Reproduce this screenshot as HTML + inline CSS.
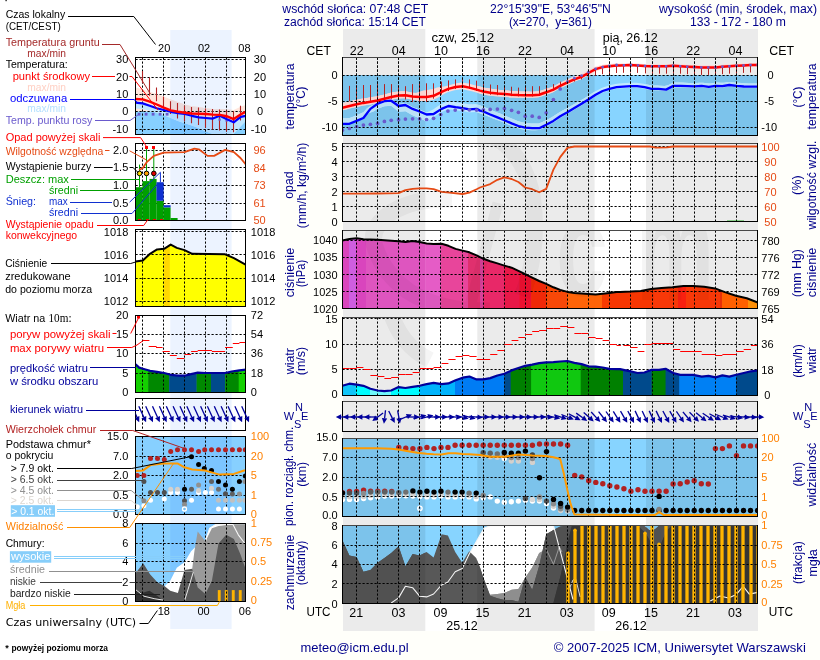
<!DOCTYPE html>
<html lang="pl"><head><meta charset="utf-8"><title>Meteogram ICM</title>
<style>
html,body{margin:0;padding:0;background:#fffffa;}
body{width:820px;height:660px;overflow:hidden;font-family:"Liberation Sans", sans-serif;}
svg{display:block;font-family:"Liberation Sans", sans-serif;}
</style></head><body>
<svg width="820" height="660" viewBox="0 0 820 660" shape-rendering="auto">
<defs>
<clipPath id="night"><rect x="343.0" y="0" width="82.3" height="660"/><rect x="477.3" y="0" width="117.3" height="660"/><rect x="646.0" y="0" width="112.0" height="660"/></clipPath>
<clipPath id="p1"><rect x="342.5" y="57.5" width="415.0" height="78.0"/></clipPath>
<clipPath id="p2"><rect x="342.5" y="143.5" width="415.0" height="78.0"/></clipPath>
<clipPath id="p3"><rect x="342.5" y="230.5" width="415.0" height="78.0"/></clipPath>
<clipPath id="p4"><rect x="342.5" y="317.5" width="415.0" height="78.0"/></clipPath>
<clipPath id="p5"><rect x="342.5" y="401.5" width="415.0" height="30.0"/></clipPath>
<clipPath id="p6"><rect x="342.5" y="438.5" width="415.0" height="78.0"/></clipPath>
<clipPath id="p7"><rect x="342.5" y="525.5" width="415.0" height="78.0"/></clipPath>
<clipPath id="wm"><rect x="342.5" y="143.5" width="415.0" height="78.0"/><rect x="342.5" y="230.5" width="415.0" height="78.0"/><rect x="342.5" y="317.5" width="415.0" height="78.0"/><rect x="342.5" y="401.5" width="415.0" height="30.0"/></clipPath>
</defs>
<rect x="0.0" y="0.0" width="280.0" height="660.0" fill="#ffffff"/>
<rect x="343.0" y="29.0" width="415.0" height="602.0" fill="#ffffff"/>
<rect x="343.0" y="29.0" width="82.3" height="602.0" fill="#ebebeb"/>
<rect x="477.3" y="29.0" width="117.3" height="602.0" fill="#ebebeb"/>
<rect x="646.0" y="29.0" width="112.0" height="602.0" fill="#ebebeb"/>
<g>
<polygon points="342.5,75.1 757.5,75.1 757.5,135.5 342.5,135.5" fill="#87d4ff"/>
<g clip-path="url(#night)">
<polygon points="342.5,75.1 757.5,75.1 757.5,135.5 342.5,135.5" fill="#7cc3eb"/>
</g>
</g>
<g clip-path="url(#p1)">
<polygon points="342.5,118.2 346.0,118.2 349.5,118.1 353.0,116.7 356.5,115.3 360.0,113.8 363.5,112.2 367.0,108.3 370.5,105.9 374.0,104.4 377.5,102.0 381.0,100.7 384.5,99.5 388.0,99.4 391.5,99.4 395.0,101.7 398.5,104.1 402.0,103.5 405.5,103.0 409.0,105.0 412.5,106.9 416.0,108.2 419.5,109.4 423.0,111.0 426.5,112.5 430.0,111.0 433.5,109.2 437.0,106.8 440.5,104.6 444.0,102.9 447.5,101.4 451.0,101.4 454.5,102.0 458.0,102.5 461.5,102.9 465.0,103.5 468.5,104.2 472.0,104.2 475.5,104.0 479.0,105.1 482.5,106.3 486.0,107.7 489.5,109.3 493.0,110.7 496.5,112.2 500.0,113.6 503.5,115.1 507.0,116.6 510.5,118.1 514.0,119.5 517.5,120.9 521.0,121.9 524.5,122.8 528.0,123.2 531.5,123.5 535.0,123.5 538.5,123.6 542.0,122.2 545.5,120.6 549.0,118.7 552.5,116.8 556.0,114.6 559.5,112.2 563.0,110.3 566.5,108.5 570.0,106.5 573.5,104.4 577.0,102.4 580.5,100.4 584.0,98.4 587.5,96.3 591.0,94.1 594.5,91.8 598.0,89.9 601.5,88.1 605.0,86.8 608.5,85.7 612.0,84.8 615.5,84.0 619.0,83.5 622.5,83.3 626.0,83.0 629.5,82.8 633.0,82.8 636.5,82.8 640.0,83.2 643.5,83.7 647.0,84.4 650.5,85.3 654.0,85.5 657.5,85.5 661.0,85.8 664.5,86.1 668.0,85.3 671.5,83.5 675.0,82.5 678.5,82.5 682.0,82.6 685.5,82.8 689.0,82.9 692.5,83.0 696.0,82.9 699.5,82.7 703.0,82.7 706.5,83.3 710.0,83.4 713.5,82.9 717.0,82.6 720.5,82.8 724.0,82.7 727.5,82.0 731.0,81.9 734.5,82.4 738.0,82.7 741.5,83.1 745.0,83.3 748.5,83.4 752.0,83.5 755.5,83.5 757.5,83.5 757.5,87.9 755.5,87.9 752.0,87.9 748.5,87.9 745.0,87.8 741.5,87.6 738.0,87.2 734.5,86.9 731.0,86.5 727.5,86.6 724.0,87.2 720.5,87.4 717.0,87.2 713.5,87.5 710.0,88.0 706.5,87.9 703.0,87.4 699.5,87.3 696.0,87.6 692.5,87.6 689.0,87.6 685.5,87.4 682.0,87.3 678.5,87.2 675.0,87.2 671.5,88.2 668.0,90.0 664.5,90.8 661.0,90.5 657.5,90.3 654.0,90.3 650.5,90.1 647.0,89.2 643.5,88.5 640.0,88.0 636.5,87.6 633.0,87.6 629.5,87.7 626.0,87.9 622.5,88.2 619.0,88.4 615.5,89.0 612.0,89.8 608.5,90.7 605.0,91.7 601.5,93.1 598.0,94.9 594.5,97.0 591.0,99.3 587.5,101.6 584.0,103.8 580.5,105.9 577.0,108.0 573.5,110.1 570.0,112.2 566.5,114.3 563.0,116.2 559.5,118.3 556.0,120.7 552.5,123.0 549.0,125.0 545.5,126.9 542.0,128.7 538.5,130.1 535.0,130.2 531.5,130.2 528.0,130.0 524.5,129.7 521.0,128.9 517.5,127.9 514.0,126.7 510.5,125.4 507.0,123.9 503.5,122.5 500.0,121.1 496.5,119.8 493.0,118.4 489.5,117.0 486.0,115.5 482.5,114.2 479.0,113.1 475.5,112.0 472.0,112.2 468.5,112.2 465.0,111.5 461.5,110.9 458.0,110.5 454.5,110.0 451.0,109.4 447.5,109.4 444.0,110.9 440.5,112.6 437.0,114.8 433.5,117.3 430.0,119.6 426.5,121.5 423.0,119.8 419.5,118.2 416.0,116.8 412.5,115.3 409.0,113.3 405.5,111.2 402.0,111.6 398.5,111.8 395.0,108.8 391.5,105.9 388.0,106.0 384.5,106.2 381.0,107.5 377.5,108.8 374.0,111.3 370.5,112.6 367.0,114.1 363.5,117.8 360.0,119.3 356.5,120.7 353.0,122.0 349.5,123.4 346.0,123.3 342.5,123.3" fill="#c3e9ff"/>
<g clip-path="url(#night)">
<polygon points="342.5,118.2 346.0,118.2 349.5,118.1 353.0,116.7 356.5,115.3 360.0,113.8 363.5,112.2 367.0,108.3 370.5,105.9 374.0,104.4 377.5,102.0 381.0,100.7 384.5,99.5 388.0,99.4 391.5,99.4 395.0,101.7 398.5,104.1 402.0,103.5 405.5,103.0 409.0,105.0 412.5,106.9 416.0,108.2 419.5,109.4 423.0,111.0 426.5,112.5 430.0,111.0 433.5,109.2 437.0,106.8 440.5,104.6 444.0,102.9 447.5,101.4 451.0,101.4 454.5,102.0 458.0,102.5 461.5,102.9 465.0,103.5 468.5,104.2 472.0,104.2 475.5,104.0 479.0,105.1 482.5,106.3 486.0,107.7 489.5,109.3 493.0,110.7 496.5,112.2 500.0,113.6 503.5,115.1 507.0,116.6 510.5,118.1 514.0,119.5 517.5,120.9 521.0,121.9 524.5,122.8 528.0,123.2 531.5,123.5 535.0,123.5 538.5,123.6 542.0,122.2 545.5,120.6 549.0,118.7 552.5,116.8 556.0,114.6 559.5,112.2 563.0,110.3 566.5,108.5 570.0,106.5 573.5,104.4 577.0,102.4 580.5,100.4 584.0,98.4 587.5,96.3 591.0,94.1 594.5,91.8 598.0,89.9 601.5,88.1 605.0,86.8 608.5,85.7 612.0,84.8 615.5,84.0 619.0,83.5 622.5,83.3 626.0,83.0 629.5,82.8 633.0,82.8 636.5,82.8 640.0,83.2 643.5,83.7 647.0,84.4 650.5,85.3 654.0,85.5 657.5,85.5 661.0,85.8 664.5,86.1 668.0,85.3 671.5,83.5 675.0,82.5 678.5,82.5 682.0,82.6 685.5,82.8 689.0,82.9 692.5,83.0 696.0,82.9 699.5,82.7 703.0,82.7 706.5,83.3 710.0,83.4 713.5,82.9 717.0,82.6 720.5,82.8 724.0,82.7 727.5,82.0 731.0,81.9 734.5,82.4 738.0,82.7 741.5,83.1 745.0,83.3 748.5,83.4 752.0,83.5 755.5,83.5 757.5,83.5 757.5,87.9 755.5,87.9 752.0,87.9 748.5,87.9 745.0,87.8 741.5,87.6 738.0,87.2 734.5,86.9 731.0,86.5 727.5,86.6 724.0,87.2 720.5,87.4 717.0,87.2 713.5,87.5 710.0,88.0 706.5,87.9 703.0,87.4 699.5,87.3 696.0,87.6 692.5,87.6 689.0,87.6 685.5,87.4 682.0,87.3 678.5,87.2 675.0,87.2 671.5,88.2 668.0,90.0 664.5,90.8 661.0,90.5 657.5,90.3 654.0,90.3 650.5,90.1 647.0,89.2 643.5,88.5 640.0,88.0 636.5,87.6 633.0,87.6 629.5,87.7 626.0,87.9 622.5,88.2 619.0,88.4 615.5,89.0 612.0,89.8 608.5,90.7 605.0,91.7 601.5,93.1 598.0,94.9 594.5,97.0 591.0,99.3 587.5,101.6 584.0,103.8 580.5,105.9 577.0,108.0 573.5,110.1 570.0,112.2 566.5,114.3 563.0,116.2 559.5,118.3 556.0,120.7 552.5,123.0 549.0,125.0 545.5,126.9 542.0,128.7 538.5,130.1 535.0,130.2 531.5,130.2 528.0,130.0 524.5,129.7 521.0,128.9 517.5,127.9 514.0,126.7 510.5,125.4 507.0,123.9 503.5,122.5 500.0,121.1 496.5,119.8 493.0,118.4 489.5,117.0 486.0,115.5 482.5,114.2 479.0,113.1 475.5,112.0 472.0,112.2 468.5,112.2 465.0,111.5 461.5,110.9 458.0,110.5 454.5,110.0 451.0,109.4 447.5,109.4 444.0,110.9 440.5,112.6 437.0,114.8 433.5,117.3 430.0,119.6 426.5,121.5 423.0,119.8 419.5,118.2 416.0,116.8 412.5,115.3 409.0,113.3 405.5,111.2 402.0,111.6 398.5,111.8 395.0,108.8 391.5,105.9 388.0,106.0 384.5,106.2 381.0,107.5 377.5,108.8 374.0,111.3 370.5,112.6 367.0,114.1 363.5,117.8 360.0,119.3 356.5,120.7 353.0,122.0 349.5,123.4 346.0,123.3 342.5,123.3" fill="#bce1f6"/>
</g>
</g>
<g clip-path="url(#p1)">
<polygon points="342.5,103.1 346.0,102.3 349.5,101.4 353.0,100.6 356.5,99.8 360.0,99.1 363.5,98.5 367.0,97.9 370.5,97.3 374.0,96.8 377.5,96.2 381.0,95.3 384.5,94.4 388.0,93.5 391.5,92.6 395.0,92.0 398.5,91.4 402.0,91.3 405.5,91.3 409.0,92.1 412.5,92.8 416.0,92.9 419.5,91.9 423.0,90.8 426.5,90.3 430.0,89.6 433.5,88.9 437.0,87.4 440.5,86.9 444.0,86.6 447.5,85.8 451.0,84.7 454.5,83.7 458.0,83.1 461.5,82.6 465.0,82.9 468.5,83.5 472.0,84.4 475.5,85.4 479.0,86.3 482.5,87.3 486.0,88.0 489.5,88.6 493.0,89.1 496.5,89.6 500.0,89.9 503.5,90.2 507.0,90.5 510.5,90.9 514.0,91.1 517.5,91.3 521.0,91.5 524.5,91.6 528.0,91.6 531.5,91.7 535.0,91.5 538.5,91.3 542.0,90.3 545.5,89.2 549.0,87.9 552.5,86.7 556.0,85.0 559.5,83.1 563.0,81.4 566.5,79.8 570.0,78.3 573.5,76.8 577.0,75.6 580.5,74.4 584.0,72.7 587.5,70.8 591.0,69.0 594.5,67.1 598.0,65.9 601.5,64.9 605.0,64.4 608.5,64.1 612.0,63.8 615.5,63.5 619.0,63.5 622.5,63.5 626.0,63.4 629.5,63.3 633.0,63.4 636.5,63.5 640.0,63.8 643.5,64.0 647.0,64.2 650.5,64.4 654.0,64.4 657.5,64.4 661.0,64.4 664.5,64.4 668.0,64.3 671.5,64.0 675.0,64.0 678.5,64.3 682.0,64.5 685.5,64.8 689.0,65.0 692.5,65.2 696.0,65.3 699.5,65.5 703.0,65.6 706.5,65.6 710.0,65.6 713.5,65.6 717.0,65.5 720.5,65.1 724.0,64.8 727.5,64.6 731.0,64.3 734.5,64.1 738.0,63.8 741.5,63.7 745.0,63.5 748.5,63.3 752.0,63.2 755.5,63.1 757.5,63.1 757.5,66.4 755.5,66.4 752.0,66.5 748.5,66.6 745.0,66.8 741.5,67.0 738.0,67.1 734.5,67.4 731.0,67.6 727.5,67.9 724.0,68.1 720.5,68.4 717.0,68.8 713.5,68.9 710.0,68.9 706.5,68.9 703.0,68.9 699.5,68.8 696.0,68.6 692.5,68.5 689.0,68.3 685.5,68.1 682.0,67.8 678.5,67.6 675.0,67.3 671.5,67.3 668.0,67.6 664.5,67.7 661.0,67.7 657.5,67.7 654.0,67.7 650.5,67.7 647.0,67.5 643.5,67.3 640.0,67.1 636.5,66.8 633.0,66.7 629.5,66.6 626.0,66.7 622.5,66.8 619.0,66.9 615.5,67.1 612.0,67.6 608.5,68.1 605.0,68.6 601.5,69.4 598.0,70.4 594.5,71.8 591.0,73.7 587.5,75.7 584.0,77.6 580.5,79.4 577.0,80.6 573.5,82.0 570.0,83.6 566.5,85.2 563.0,86.9 559.5,88.6 556.0,90.6 552.5,92.4 549.0,93.7 545.5,95.1 542.0,96.3 538.5,97.3 535.0,97.6 531.5,97.8 528.0,97.8 524.5,97.9 521.0,97.8 517.5,97.7 514.0,97.6 510.5,97.4 507.0,97.1 503.5,96.8 500.0,96.6 496.5,96.3 493.0,95.9 489.5,95.5 486.0,94.9 482.5,94.2 479.0,93.3 475.5,92.3 472.0,91.3 468.5,90.4 465.0,89.7 461.5,89.3 458.0,89.8 454.5,90.3 451.0,91.3 447.5,92.3 444.0,94.0 440.5,95.9 437.0,98.0 433.5,99.8 430.0,100.4 426.5,101.0 423.0,100.9 419.5,100.7 416.0,100.2 412.5,99.8 409.0,99.1 405.5,98.3 402.0,98.3 398.5,98.4 395.0,99.0 391.5,99.7 388.0,100.6 384.5,101.5 381.0,102.4 377.5,103.3 374.0,103.8 370.5,104.4 367.0,105.0 363.5,105.6 360.0,106.3 356.5,107.0 353.0,107.8 349.5,108.6 346.0,109.5 342.5,110.3" fill="#ffdad6"/>
<g clip-path="url(#night)">
<polygon points="342.5,103.1 346.0,102.3 349.5,101.4 353.0,100.6 356.5,99.8 360.0,99.1 363.5,98.5 367.0,97.9 370.5,97.3 374.0,96.8 377.5,96.2 381.0,95.3 384.5,94.4 388.0,93.5 391.5,92.6 395.0,92.0 398.5,91.4 402.0,91.3 405.5,91.3 409.0,92.1 412.5,92.8 416.0,92.9 419.5,91.9 423.0,90.8 426.5,90.3 430.0,89.6 433.5,88.9 437.0,87.4 440.5,86.9 444.0,86.6 447.5,85.8 451.0,84.7 454.5,83.7 458.0,83.1 461.5,82.6 465.0,82.9 468.5,83.5 472.0,84.4 475.5,85.4 479.0,86.3 482.5,87.3 486.0,88.0 489.5,88.6 493.0,89.1 496.5,89.6 500.0,89.9 503.5,90.2 507.0,90.5 510.5,90.9 514.0,91.1 517.5,91.3 521.0,91.5 524.5,91.6 528.0,91.6 531.5,91.7 535.0,91.5 538.5,91.3 542.0,90.3 545.5,89.2 549.0,87.9 552.5,86.7 556.0,85.0 559.5,83.1 563.0,81.4 566.5,79.8 570.0,78.3 573.5,76.8 577.0,75.6 580.5,74.4 584.0,72.7 587.5,70.8 591.0,69.0 594.5,67.1 598.0,65.9 601.5,64.9 605.0,64.4 608.5,64.1 612.0,63.8 615.5,63.5 619.0,63.5 622.5,63.5 626.0,63.4 629.5,63.3 633.0,63.4 636.5,63.5 640.0,63.8 643.5,64.0 647.0,64.2 650.5,64.4 654.0,64.4 657.5,64.4 661.0,64.4 664.5,64.4 668.0,64.3 671.5,64.0 675.0,64.0 678.5,64.3 682.0,64.5 685.5,64.8 689.0,65.0 692.5,65.2 696.0,65.3 699.5,65.5 703.0,65.6 706.5,65.6 710.0,65.6 713.5,65.6 717.0,65.5 720.5,65.1 724.0,64.8 727.5,64.6 731.0,64.3 734.5,64.1 738.0,63.8 741.5,63.7 745.0,63.5 748.5,63.3 752.0,63.2 755.5,63.1 757.5,63.1 757.5,66.4 755.5,66.4 752.0,66.5 748.5,66.6 745.0,66.8 741.5,67.0 738.0,67.1 734.5,67.4 731.0,67.6 727.5,67.9 724.0,68.1 720.5,68.4 717.0,68.8 713.5,68.9 710.0,68.9 706.5,68.9 703.0,68.9 699.5,68.8 696.0,68.6 692.5,68.5 689.0,68.3 685.5,68.1 682.0,67.8 678.5,67.6 675.0,67.3 671.5,67.3 668.0,67.6 664.5,67.7 661.0,67.7 657.5,67.7 654.0,67.7 650.5,67.7 647.0,67.5 643.5,67.3 640.0,67.1 636.5,66.8 633.0,66.7 629.5,66.6 626.0,66.7 622.5,66.8 619.0,66.9 615.5,67.1 612.0,67.6 608.5,68.1 605.0,68.6 601.5,69.4 598.0,70.4 594.5,71.8 591.0,73.7 587.5,75.7 584.0,77.6 580.5,79.4 577.0,80.6 573.5,82.0 570.0,83.6 566.5,85.2 563.0,86.9 559.5,88.6 556.0,90.6 552.5,92.4 549.0,93.7 545.5,95.1 542.0,96.3 538.5,97.3 535.0,97.6 531.5,97.8 528.0,97.8 524.5,97.9 521.0,97.8 517.5,97.7 514.0,97.6 510.5,97.4 507.0,97.1 503.5,96.8 500.0,96.6 496.5,96.3 493.0,95.9 489.5,95.5 486.0,94.9 482.5,94.2 479.0,93.3 475.5,92.3 472.0,91.3 468.5,90.4 465.0,89.7 461.5,89.3 458.0,89.8 454.5,90.3 451.0,91.3 447.5,92.3 444.0,94.0 440.5,95.9 437.0,98.0 433.5,99.8 430.0,100.4 426.5,101.0 423.0,100.9 419.5,100.7 416.0,100.2 412.5,99.8 409.0,99.1 405.5,98.3 402.0,98.3 398.5,98.4 395.0,99.0 391.5,99.7 388.0,100.6 384.5,101.5 381.0,102.4 377.5,103.3 374.0,103.8 370.5,104.4 367.0,105.0 363.5,105.6 360.0,106.3 356.5,107.0 353.0,107.8 349.5,108.6 346.0,109.5 342.5,110.3" fill="#f9d5d1"/>
</g>
</g>
<line x1="356.5" y1="57.5" x2="356.5" y2="135.5" stroke="#000" stroke-width="1" stroke-dasharray="2.2 1.8"/>
<line x1="377.5" y1="57.5" x2="377.5" y2="135.5" stroke="#000" stroke-width="1" stroke-dasharray="2.2 1.8"/>
<line x1="398.5" y1="57.5" x2="398.5" y2="135.5" stroke="#000" stroke-width="1" stroke-dasharray="2.2 1.8"/>
<line x1="419.5" y1="57.5" x2="419.5" y2="135.5" stroke="#000" stroke-width="1" stroke-dasharray="2.2 1.8"/>
<line x1="440.5" y1="57.5" x2="440.5" y2="135.5" stroke="#000" stroke-width="1" stroke-dasharray="2.2 1.8"/>
<line x1="462.5" y1="57.5" x2="462.5" y2="135.5" stroke="#000" stroke-width="1" stroke-dasharray="2.2 1.8"/>
<line x1="483.5" y1="57.5" x2="483.5" y2="135.5" stroke="#000" stroke-width="1" stroke-dasharray="2.2 1.8"/>
<line x1="504.5" y1="57.5" x2="504.5" y2="135.5" stroke="#000" stroke-width="1" stroke-dasharray="2.2 1.8"/>
<line x1="525.5" y1="57.5" x2="525.5" y2="135.5" stroke="#000" stroke-width="1" stroke-dasharray="2.2 1.8"/>
<line x1="546.5" y1="57.5" x2="546.5" y2="135.5" stroke="#000" stroke-width="1" stroke-dasharray="2.2 1.8"/>
<line x1="567.5" y1="57.5" x2="567.5" y2="135.5" stroke="#000" stroke-width="1" stroke-dasharray="2.2 1.8"/>
<line x1="588.5" y1="57.5" x2="588.5" y2="135.5" stroke="#000" stroke-width="1" stroke-dasharray="2.2 1.8"/>
<line x1="609.5" y1="57.5" x2="609.5" y2="135.5" stroke="#000" stroke-width="1" stroke-dasharray="2.2 1.8"/>
<line x1="630.5" y1="57.5" x2="630.5" y2="135.5" stroke="#000" stroke-width="1" stroke-dasharray="2.2 1.8"/>
<line x1="652.5" y1="57.5" x2="652.5" y2="135.5" stroke="#000" stroke-width="1" stroke-dasharray="2.2 1.8"/>
<line x1="673.5" y1="57.5" x2="673.5" y2="135.5" stroke="#000" stroke-width="1" stroke-dasharray="2.2 1.8"/>
<line x1="694.5" y1="57.5" x2="694.5" y2="135.5" stroke="#000" stroke-width="1" stroke-dasharray="2.2 1.8"/>
<line x1="715.5" y1="57.5" x2="715.5" y2="135.5" stroke="#000" stroke-width="1" stroke-dasharray="2.2 1.8"/>
<line x1="736.5" y1="57.5" x2="736.5" y2="135.5" stroke="#000" stroke-width="1" stroke-dasharray="2.2 1.8"/>
<line x1="342.5" y1="75.5" x2="757.5" y2="75.5" stroke="#000" stroke-width="1" stroke-dasharray="2.2 1.8"/>
<line x1="342.5" y1="101.5" x2="757.5" y2="101.5" stroke="#000" stroke-width="1" stroke-dasharray="2.2 1.8"/>
<line x1="342.5" y1="127.5" x2="757.5" y2="127.5" stroke="#000" stroke-width="1" stroke-dasharray="2.2 1.8"/>
<g clip-path="url(#p1)">
<line x1="349.5" y1="85.9" x2="349.5" y2="101.2" stroke="#b22222" stroke-width="1"/>
<line x1="356.5" y1="85.0" x2="356.5" y2="101.2" stroke="#b22222" stroke-width="1"/>
<line x1="363.5" y1="85.0" x2="363.5" y2="101.2" stroke="#b22222" stroke-width="1"/>
<line x1="370.5" y1="85.0" x2="370.5" y2="100.9" stroke="#b22222" stroke-width="1"/>
<line x1="377.5" y1="84.1" x2="377.5" y2="100.4" stroke="#b22222" stroke-width="1"/>
<line x1="384.5" y1="84.1" x2="384.5" y2="99.5" stroke="#b22222" stroke-width="1"/>
<line x1="391.5" y1="84.1" x2="391.5" y2="98.7" stroke="#b22222" stroke-width="1"/>
<line x1="398.5" y1="85.0" x2="398.5" y2="98.7" stroke="#b22222" stroke-width="1"/>
<line x1="405.5" y1="86.2" x2="405.5" y2="99.5" stroke="#b22222" stroke-width="1"/>
<line x1="412.5" y1="84.1" x2="412.5" y2="102.1" stroke="#b22222" stroke-width="1"/>
<line x1="419.5" y1="83.8" x2="419.5" y2="102.1" stroke="#b22222" stroke-width="1"/>
<line x1="426.5" y1="83.3" x2="426.5" y2="102.1" stroke="#b22222" stroke-width="1"/>
<line x1="433.5" y1="83.3" x2="433.5" y2="98.7" stroke="#b22222" stroke-width="1"/>
<line x1="441.5" y1="81.6" x2="441.5" y2="94.7" stroke="#b22222" stroke-width="1"/>
<line x1="448.5" y1="80.4" x2="448.5" y2="91.0" stroke="#b22222" stroke-width="1"/>
<line x1="455.5" y1="79.4" x2="455.5" y2="88.9" stroke="#b22222" stroke-width="1"/>
<line x1="462.5" y1="79.0" x2="462.5" y2="87.9" stroke="#b22222" stroke-width="1"/>
<line x1="469.5" y1="79.4" x2="469.5" y2="88.9" stroke="#b22222" stroke-width="1"/>
<line x1="476.5" y1="80.7" x2="476.5" y2="91.0" stroke="#b22222" stroke-width="1"/>
<line x1="483.5" y1="84.1" x2="483.5" y2="94.0" stroke="#b22222" stroke-width="1"/>
<line x1="490.5" y1="84.5" x2="490.5" y2="94.7" stroke="#b22222" stroke-width="1"/>
<line x1="497.5" y1="85.0" x2="497.5" y2="95.2" stroke="#b22222" stroke-width="1"/>
<line x1="504.5" y1="86.7" x2="504.5" y2="95.8" stroke="#b22222" stroke-width="1"/>
<line x1="511.5" y1="86.7" x2="511.5" y2="96.1" stroke="#b22222" stroke-width="1"/>
<line x1="518.5" y1="87.6" x2="518.5" y2="96.4" stroke="#b22222" stroke-width="1"/>
<line x1="525.5" y1="86.7" x2="525.5" y2="96.4" stroke="#b22222" stroke-width="1"/>
<line x1="532.5" y1="86.2" x2="532.5" y2="96.4" stroke="#b22222" stroke-width="1"/>
<line x1="539.5" y1="86.2" x2="539.5" y2="95.8" stroke="#b22222" stroke-width="1"/>
<line x1="546.5" y1="85.0" x2="546.5" y2="93.5" stroke="#b22222" stroke-width="1"/>
<line x1="553.5" y1="84.1" x2="553.5" y2="90.6" stroke="#b22222" stroke-width="1"/>
<line x1="560.5" y1="81.6" x2="560.5" y2="86.7" stroke="#b22222" stroke-width="1"/>
<line x1="567.5" y1="79.0" x2="567.5" y2="83.3" stroke="#b22222" stroke-width="1"/>
<line x1="574.5" y1="77.7" x2="574.5" y2="81.6" stroke="#b22222" stroke-width="1"/>
<line x1="581.5" y1="75.6" x2="581.5" y2="79.4" stroke="#b22222" stroke-width="1"/>
<line x1="588.5" y1="73.0" x2="588.5" y2="77.3" stroke="#b22222" stroke-width="1"/>
<line x1="595.5" y1="70.1" x2="595.5" y2="75.6" stroke="#b22222" stroke-width="1"/>
<line x1="602.5" y1="68.4" x2="602.5" y2="74.2" stroke="#b22222" stroke-width="1"/>
<line x1="609.5" y1="67.1" x2="609.5" y2="73.9" stroke="#b22222" stroke-width="1"/>
<line x1="616.5" y1="66.2" x2="616.5" y2="73.0" stroke="#b22222" stroke-width="1"/>
<line x1="623.5" y1="65.3" x2="623.5" y2="72.8" stroke="#b22222" stroke-width="1"/>
<line x1="630.5" y1="65.0" x2="630.5" y2="72.5" stroke="#b22222" stroke-width="1"/>
<line x1="637.5" y1="65.4" x2="637.5" y2="72.9" stroke="#b22222" stroke-width="1"/>
<line x1="645.5" y1="65.9" x2="645.5" y2="73.4" stroke="#b22222" stroke-width="1"/>
<line x1="652.5" y1="66.2" x2="652.5" y2="73.7" stroke="#b22222" stroke-width="1"/>
<line x1="659.5" y1="66.2" x2="659.5" y2="73.7" stroke="#b22222" stroke-width="1"/>
<line x1="666.5" y1="66.2" x2="666.5" y2="73.7" stroke="#b22222" stroke-width="1"/>
<line x1="673.5" y1="65.7" x2="673.5" y2="73.2" stroke="#b22222" stroke-width="1"/>
<line x1="680.5" y1="66.2" x2="680.5" y2="73.7" stroke="#b22222" stroke-width="1"/>
<line x1="687.5" y1="66.7" x2="687.5" y2="74.2" stroke="#b22222" stroke-width="1"/>
<line x1="694.5" y1="67.1" x2="694.5" y2="74.6" stroke="#b22222" stroke-width="1"/>
<line x1="701.5" y1="67.4" x2="701.5" y2="74.9" stroke="#b22222" stroke-width="1"/>
<line x1="708.5" y1="67.4" x2="708.5" y2="74.9" stroke="#b22222" stroke-width="1"/>
<line x1="715.5" y1="67.4" x2="715.5" y2="74.9" stroke="#b22222" stroke-width="1"/>
<line x1="722.5" y1="66.7" x2="722.5" y2="74.2" stroke="#b22222" stroke-width="1"/>
<line x1="729.5" y1="66.2" x2="729.5" y2="73.7" stroke="#b22222" stroke-width="1"/>
<line x1="736.5" y1="65.7" x2="736.5" y2="73.2" stroke="#b22222" stroke-width="1"/>
<line x1="743.5" y1="65.4" x2="743.5" y2="72.9" stroke="#b22222" stroke-width="1"/>
<line x1="750.5" y1="65.0" x2="750.5" y2="72.5" stroke="#b22222" stroke-width="1"/>
<line x1="757.5" y1="64.9" x2="757.5" y2="72.4" stroke="#b22222" stroke-width="1"/>
<polyline points="342.4,123.8 349.4,123.8 356.6,120.9 363.4,118.0 370.4,108.9 377.6,103.8 384.4,101.2 391.2,100.7 398.6,106.0 405.4,105.0 412.6,108.9 419.6,111.5 426.6,114.5 433.6,114.0 441.6,108.9 448.4,106.0 455.6,107.2 462.6,108.1 469.4,109.4 476.6,108.9 480.0,110.6 483.4,111.5 490.2,114.5 497.4,117.4 504.4,120.3 511.6,123.4 518.4,126.0 525.2,127.7 532.2,128.2 539.2,128.2 546.2,124.8 553.4,120.9 560.2,116.2 567.4,112.3 574.4,108.1 581.6,103.8 588.4,99.5 595.6,94.7 602.6,91.0 609.4,88.9 616.6,87.2 620.0,86.9 630.6,86.2 637.1,86.2 644.6,87.2 651.6,88.9 658.4,88.9 666.1,89.6 673.4,85.9 680.6,85.9 687.4,86.2 694.6,86.4 701.6,85.9 708.8,86.9 715.6,85.9 722.4,86.2 729.3,85.0 736.6,85.9 743.8,86.5 750.6,86.7 758.0,86.7" fill="none" stroke="#0000ff" stroke-width="2.3" stroke-linejoin="round"/>
<polyline points="342.4,107.7 356.6,104.3 363.4,102.9 377.6,100.5 391.2,97.0 398.6,95.6 405.4,95.2 412.6,96.4 419.6,97.0 426.6,97.0 433.6,95.8 441.6,91.8 448.4,88.9 455.6,87.0 462.6,86.2 469.4,87.6 476.6,89.6 480.0,90.6 483.4,91.5 490.2,92.7 497.4,93.5 504.4,94.0 511.6,94.7 518.4,95.1 525.2,95.2 532.2,95.2 539.2,94.7 546.2,92.3 553.4,89.6 560.2,85.9 567.4,82.4 574.4,79.4 581.6,76.8 588.4,73.0 595.6,69.1 602.6,67.1 609.4,66.2 616.6,65.4 620.0,65.4 630.6,65.0 637.1,65.4 644.6,65.9 651.6,66.2 666.1,66.2 673.4,65.7 680.6,66.2 687.4,66.7 694.6,67.1 701.6,67.4 708.8,67.4 715.6,67.4 722.4,66.7 729.3,66.2 736.6,65.7 743.8,65.4 750.6,65.0 758.0,64.9" fill="none" stroke="#ff0000" stroke-width="2.5" stroke-linejoin="round"/>
<circle cx="342.4" cy="130.2" r="1.85" fill="#6a5acd"/>
<circle cx="349.4" cy="128.5" r="1.85" fill="#6a5acd"/>
<circle cx="356.6" cy="126.5" r="1.85" fill="#6a5acd"/>
<circle cx="363.4" cy="125.1" r="1.85" fill="#6a5acd"/>
<circle cx="370.4" cy="124.3" r="1.85" fill="#6a5acd"/>
<circle cx="377.6" cy="123.4" r="1.85" fill="#6a5acd"/>
<circle cx="384.4" cy="121.4" r="1.85" fill="#6a5acd"/>
<circle cx="391.2" cy="120.3" r="1.85" fill="#6a5acd"/>
<circle cx="398.6" cy="119.7" r="1.85" fill="#6a5acd"/>
<circle cx="405.4" cy="119.1" r="1.85" fill="#6a5acd"/>
<circle cx="412.6" cy="118.8" r="1.85" fill="#6a5acd"/>
<circle cx="419.6" cy="118.8" r="1.85" fill="#6a5acd"/>
<circle cx="426.6" cy="119.5" r="1.85" fill="#6a5acd"/>
<circle cx="433.6" cy="118.3" r="1.85" fill="#6a5acd"/>
<circle cx="440.7" cy="114.5" r="1.85" fill="#6a5acd"/>
<circle cx="447.9" cy="111.1" r="1.85" fill="#6a5acd"/>
<circle cx="455.2" cy="110.1" r="1.85" fill="#6a5acd"/>
<circle cx="462.6" cy="109.8" r="1.85" fill="#6a5acd"/>
<circle cx="469.4" cy="109.8" r="1.85" fill="#6a5acd"/>
<circle cx="476.6" cy="110.1" r="1.85" fill="#6a5acd"/>
<circle cx="483.4" cy="109.8" r="1.85" fill="#6a5acd"/>
<circle cx="490.2" cy="109.4" r="1.85" fill="#6a5acd"/>
<circle cx="497.4" cy="109.1" r="1.85" fill="#6a5acd"/>
<circle cx="504.4" cy="108.4" r="1.85" fill="#6a5acd"/>
<circle cx="511.6" cy="110.3" r="1.85" fill="#6a5acd"/>
<circle cx="518.4" cy="112.3" r="1.85" fill="#6a5acd"/>
<circle cx="525.2" cy="116.2" r="1.85" fill="#6a5acd"/>
<circle cx="532.2" cy="116.2" r="1.85" fill="#6a5acd"/>
<circle cx="539.2" cy="117.4" r="1.85" fill="#6a5acd"/>
<circle cx="546.2" cy="112.8" r="1.85" fill="#6a5acd"/>
<circle cx="553.4" cy="99.5" r="1.85" fill="#6a5acd"/>
<circle cx="560.2" cy="88.9" r="1.85" fill="#6a5acd"/>
<circle cx="567.4" cy="81.6" r="1.4" fill="#6a5acd"/>
<circle cx="574.4" cy="78.2" r="1.4" fill="#6a5acd"/>
<circle cx="581.6" cy="75.6" r="1.4" fill="#6a5acd"/>
<circle cx="588.4" cy="72.2" r="1.4" fill="#6a5acd"/>
<circle cx="595.6" cy="68.8" r="1.4" fill="#6a5acd"/>
<circle cx="602.6" cy="67.1" r="1.4" fill="#6a5acd"/>
<circle cx="609.4" cy="65.9" r="1.4" fill="#6a5acd"/>
<circle cx="616.6" cy="65.0" r="1.4" fill="#6a5acd"/>
<rect x="622.7" y="64.0" width="2.4" height="2.4" fill="#6a5acd"/>
<rect x="629.7" y="63.8" width="2.4" height="2.4" fill="#6a5acd"/>
<rect x="636.8" y="64.2" width="2.4" height="2.4" fill="#6a5acd"/>
<rect x="643.8" y="64.7" width="2.4" height="2.4" fill="#6a5acd"/>
<rect x="650.8" y="65.0" width="2.4" height="2.4" fill="#6a5acd"/>
<rect x="657.9" y="65.0" width="2.4" height="2.4" fill="#6a5acd"/>
<rect x="664.9" y="65.0" width="2.4" height="2.4" fill="#6a5acd"/>
<rect x="671.9" y="64.5" width="2.4" height="2.4" fill="#6a5acd"/>
<rect x="679.0" y="65.0" width="2.4" height="2.4" fill="#6a5acd"/>
<rect x="686.0" y="65.5" width="2.4" height="2.4" fill="#6a5acd"/>
<rect x="693.0" y="65.9" width="2.4" height="2.4" fill="#6a5acd"/>
<rect x="700.1" y="66.2" width="2.4" height="2.4" fill="#6a5acd"/>
<rect x="707.1" y="66.2" width="2.4" height="2.4" fill="#6a5acd"/>
<rect x="714.2" y="66.2" width="2.4" height="2.4" fill="#6a5acd"/>
<rect x="721.2" y="65.5" width="2.4" height="2.4" fill="#6a5acd"/>
<rect x="728.2" y="65.0" width="2.4" height="2.4" fill="#6a5acd"/>
<rect x="735.3" y="64.5" width="2.4" height="2.4" fill="#6a5acd"/>
<rect x="742.3" y="64.2" width="2.4" height="2.4" fill="#6a5acd"/>
<rect x="749.3" y="63.8" width="2.4" height="2.4" fill="#6a5acd"/>
<rect x="756.4" y="63.7" width="2.4" height="2.4" fill="#6a5acd"/>
</g>
<line x1="356.5" y1="57.5" x2="356.5" y2="135.5" stroke="#000" stroke-width="1" stroke-dasharray="2.2 1.8"/>
<line x1="377.5" y1="57.5" x2="377.5" y2="135.5" stroke="#000" stroke-width="1" stroke-dasharray="2.2 1.8"/>
<line x1="398.5" y1="57.5" x2="398.5" y2="135.5" stroke="#000" stroke-width="1" stroke-dasharray="2.2 1.8"/>
<line x1="419.5" y1="57.5" x2="419.5" y2="135.5" stroke="#000" stroke-width="1" stroke-dasharray="2.2 1.8"/>
<line x1="440.5" y1="57.5" x2="440.5" y2="135.5" stroke="#000" stroke-width="1" stroke-dasharray="2.2 1.8"/>
<line x1="462.5" y1="57.5" x2="462.5" y2="135.5" stroke="#000" stroke-width="1" stroke-dasharray="2.2 1.8"/>
<line x1="483.5" y1="57.5" x2="483.5" y2="135.5" stroke="#000" stroke-width="1" stroke-dasharray="2.2 1.8"/>
<line x1="504.5" y1="57.5" x2="504.5" y2="135.5" stroke="#000" stroke-width="1" stroke-dasharray="2.2 1.8"/>
<line x1="525.5" y1="57.5" x2="525.5" y2="135.5" stroke="#000" stroke-width="1" stroke-dasharray="2.2 1.8"/>
<line x1="546.5" y1="57.5" x2="546.5" y2="135.5" stroke="#000" stroke-width="1" stroke-dasharray="2.2 1.8"/>
<line x1="567.5" y1="57.5" x2="567.5" y2="135.5" stroke="#000" stroke-width="1" stroke-dasharray="2.2 1.8"/>
<line x1="588.5" y1="57.5" x2="588.5" y2="135.5" stroke="#000" stroke-width="1" stroke-dasharray="2.2 1.8"/>
<line x1="609.5" y1="57.5" x2="609.5" y2="135.5" stroke="#000" stroke-width="1" stroke-dasharray="2.2 1.8"/>
<line x1="630.5" y1="57.5" x2="630.5" y2="135.5" stroke="#000" stroke-width="1" stroke-dasharray="2.2 1.8"/>
<line x1="652.5" y1="57.5" x2="652.5" y2="135.5" stroke="#000" stroke-width="1" stroke-dasharray="2.2 1.8"/>
<line x1="673.5" y1="57.5" x2="673.5" y2="135.5" stroke="#000" stroke-width="1" stroke-dasharray="2.2 1.8"/>
<line x1="694.5" y1="57.5" x2="694.5" y2="135.5" stroke="#000" stroke-width="1" stroke-dasharray="2.2 1.8"/>
<line x1="715.5" y1="57.5" x2="715.5" y2="135.5" stroke="#000" stroke-width="1" stroke-dasharray="2.2 1.8"/>
<line x1="736.5" y1="57.5" x2="736.5" y2="135.5" stroke="#000" stroke-width="1" stroke-dasharray="2.2 1.8"/>
<rect x="342.5" y="57.5" width="415.0" height="78.0" fill="none" stroke="#000" stroke-width="1"/>
<line x1="343.0" y1="57.5" x2="757.0" y2="57.5" stroke="#484848" stroke-width="1"/>
<line x1="356.5" y1="143.5" x2="356.5" y2="221.5" stroke="#000" stroke-width="1" stroke-dasharray="2.2 1.8"/>
<line x1="377.5" y1="143.5" x2="377.5" y2="221.5" stroke="#000" stroke-width="1" stroke-dasharray="2.2 1.8"/>
<line x1="398.5" y1="143.5" x2="398.5" y2="221.5" stroke="#000" stroke-width="1" stroke-dasharray="2.2 1.8"/>
<line x1="419.5" y1="143.5" x2="419.5" y2="221.5" stroke="#000" stroke-width="1" stroke-dasharray="2.2 1.8"/>
<line x1="440.5" y1="143.5" x2="440.5" y2="221.5" stroke="#000" stroke-width="1" stroke-dasharray="2.2 1.8"/>
<line x1="462.5" y1="143.5" x2="462.5" y2="221.5" stroke="#000" stroke-width="1" stroke-dasharray="2.2 1.8"/>
<line x1="483.5" y1="143.5" x2="483.5" y2="221.5" stroke="#000" stroke-width="1" stroke-dasharray="2.2 1.8"/>
<line x1="504.5" y1="143.5" x2="504.5" y2="221.5" stroke="#000" stroke-width="1" stroke-dasharray="2.2 1.8"/>
<line x1="525.5" y1="143.5" x2="525.5" y2="221.5" stroke="#000" stroke-width="1" stroke-dasharray="2.2 1.8"/>
<line x1="546.5" y1="143.5" x2="546.5" y2="221.5" stroke="#000" stroke-width="1" stroke-dasharray="2.2 1.8"/>
<line x1="567.5" y1="143.5" x2="567.5" y2="221.5" stroke="#000" stroke-width="1" stroke-dasharray="2.2 1.8"/>
<line x1="588.5" y1="143.5" x2="588.5" y2="221.5" stroke="#000" stroke-width="1" stroke-dasharray="2.2 1.8"/>
<line x1="609.5" y1="143.5" x2="609.5" y2="221.5" stroke="#000" stroke-width="1" stroke-dasharray="2.2 1.8"/>
<line x1="630.5" y1="143.5" x2="630.5" y2="221.5" stroke="#000" stroke-width="1" stroke-dasharray="2.2 1.8"/>
<line x1="652.5" y1="143.5" x2="652.5" y2="221.5" stroke="#000" stroke-width="1" stroke-dasharray="2.2 1.8"/>
<line x1="673.5" y1="143.5" x2="673.5" y2="221.5" stroke="#000" stroke-width="1" stroke-dasharray="2.2 1.8"/>
<line x1="694.5" y1="143.5" x2="694.5" y2="221.5" stroke="#000" stroke-width="1" stroke-dasharray="2.2 1.8"/>
<line x1="715.5" y1="143.5" x2="715.5" y2="221.5" stroke="#000" stroke-width="1" stroke-dasharray="2.2 1.8"/>
<line x1="736.5" y1="143.5" x2="736.5" y2="221.5" stroke="#000" stroke-width="1" stroke-dasharray="2.2 1.8"/>
<line x1="342.5" y1="146.5" x2="757.5" y2="146.5" stroke="#000" stroke-width="1" stroke-dasharray="2.2 1.8"/>
<line x1="342.5" y1="161.5" x2="757.5" y2="161.5" stroke="#000" stroke-width="1" stroke-dasharray="2.2 1.8"/>
<line x1="342.5" y1="176.5" x2="757.5" y2="176.5" stroke="#000" stroke-width="1" stroke-dasharray="2.2 1.8"/>
<line x1="342.5" y1="191.5" x2="757.5" y2="191.5" stroke="#000" stroke-width="1" stroke-dasharray="2.2 1.8"/>
<line x1="342.5" y1="206.5" x2="757.5" y2="206.5" stroke="#000" stroke-width="1" stroke-dasharray="2.2 1.8"/>
<rect x="727.0" y="220.6" width="17.0" height="1.2" fill="#00a000"/>
<g clip-path="url(#p2)">
<polyline points="342.4,193.7 356.6,193.7 377.6,193.5 398.6,193.1 405.4,190.1 412.6,188.9 419.6,188.4 426.6,188.4 433.6,189.2 441.6,191.8 449.3,192.6 462.6,194.0 469.4,192.6 476.6,189.2 480.0,187.5 490.2,184.1 497.4,179.8 504.4,177.3 511.6,179.0 518.4,182.0 525.2,187.5 532.2,189.2 539.2,192.3 546.2,188.9 553.4,169.6 560.2,157.1 567.4,147.9 574.4,146.5 620.0,146.5 650.0,146.5 656.0,147.6 667.0,147.4 673.0,146.5 758.0,146.5" fill="none" stroke="#e64a14" stroke-width="1.8" stroke-linejoin="round"/>
</g>
<rect x="342.5" y="143.5" width="415.0" height="78.0" fill="none" stroke="#000" stroke-width="1"/>
<line x1="343.0" y1="143.5" x2="757.0" y2="143.5" stroke="#484848" stroke-width="1"/>
<clipPath id="pfill"><polygon points="342.4,240.4 349.4,239.0 356.6,238.3 363.4,239.3 377.6,239.7 391.2,240.7 398.6,241.2 405.4,242.1 412.6,240.9 419.6,242.1 426.6,243.4 433.6,244.1 441.6,243.8 448.4,245.8 455.6,248.9 462.6,250.6 469.4,252.3 476.6,255.4 480.0,257.1 483.4,258.8 490.2,261.2 497.4,263.4 504.4,265.6 511.6,267.7 518.4,270.8 525.2,274.2 532.2,277.6 539.2,281.0 546.2,283.9 553.4,287.3 560.2,289.9 567.4,291.9 574.4,293.0 581.6,293.6 588.4,294.1 595.6,294.5 602.6,293.8 609.4,293.0 616.6,292.1 620.0,291.9 630.5,291.6 640.7,290.9 651.2,289.1 661.5,287.9 672.4,287.2 683.4,286.0 693.2,286.0 704.1,286.7 715.1,288.4 724.9,292.1 735.9,295.7 746.8,298.2 757.8,302.6 757.5,308.5 342.5,308.5"/></clipPath>
<g clip-path="url(#pfill)">
<rect x="342.5" y="230.5" width="6.8" height="78.0" fill="#d945bd"/>
<rect x="349.0" y="230.5" width="7.3" height="78.0" fill="#cf5ee0"/>
<rect x="356.0" y="230.5" width="10.3" height="78.0" fill="#d945bd"/>
<rect x="366.0" y="230.5" width="59.6" height="78.0" fill="#de55bf"/>
<rect x="425.3" y="230.5" width="16.0" height="78.0" fill="#e55cc6"/>
<rect x="441.0" y="230.5" width="27.3" height="78.0" fill="#e8459b"/>
<rect x="468.0" y="230.5" width="12.3" height="78.0" fill="#e0306e"/>
<rect x="480.0" y="230.5" width="3.7" height="78.0" fill="#d8409a"/>
<rect x="483.4" y="230.5" width="21.3" height="78.0" fill="#e82868"/>
<rect x="504.4" y="230.5" width="15.4" height="78.0" fill="#e81848"/>
<rect x="519.5" y="230.5" width="12.0" height="78.0" fill="#ee1030"/>
<rect x="531.2" y="230.5" width="15.3" height="78.0" fill="#f02808"/>
<rect x="546.2" y="230.5" width="21.5" height="78.0" fill="#f84808"/>
<rect x="567.4" y="230.5" width="34.9" height="78.0" fill="#ff6408"/>
<rect x="602.0" y="230.5" width="8.3" height="78.0" fill="#f83a00"/>
<rect x="610.0" y="230.5" width="42.3" height="78.0" fill="#f73602"/>
<rect x="652.0" y="230.5" width="26.3" height="78.0" fill="#f83808"/>
<rect x="678.0" y="230.5" width="8.3" height="78.0" fill="#f82010"/>
<rect x="686.0" y="230.5" width="34.3" height="78.0" fill="#f83808"/>
<rect x="720.0" y="230.5" width="2.3" height="78.0" fill="#e83008"/>
<rect x="722.0" y="230.5" width="26.3" height="78.0" fill="#ff6000"/>
<rect x="748.0" y="230.5" width="10.6" height="78.0" fill="#ff9008"/>
<g clip-path="url(#night)">
<rect x="342.5" y="230.5" width="6.8" height="78.0" fill="#d945bd"/>
<rect x="349.0" y="230.5" width="7.3" height="78.0" fill="#cf5ee0"/>
<rect x="356.0" y="230.5" width="10.3" height="78.0" fill="#d945bd"/>
<rect x="366.0" y="230.5" width="59.6" height="78.0" fill="#de55bf"/>
<rect x="425.3" y="230.5" width="16.0" height="78.0" fill="#e55cc6"/>
<rect x="441.0" y="230.5" width="27.3" height="78.0" fill="#e8459b"/>
<rect x="468.0" y="230.5" width="12.3" height="78.0" fill="#e0306e"/>
<rect x="480.0" y="230.5" width="3.7" height="78.0" fill="#d8409a"/>
<rect x="483.4" y="230.5" width="21.3" height="78.0" fill="#e82868"/>
<rect x="504.4" y="230.5" width="15.4" height="78.0" fill="#e81848"/>
<rect x="519.5" y="230.5" width="12.0" height="78.0" fill="#ee1030"/>
<rect x="531.2" y="230.5" width="15.3" height="78.0" fill="#f02808"/>
<rect x="546.2" y="230.5" width="21.5" height="78.0" fill="#f84808"/>
<rect x="567.4" y="230.5" width="34.9" height="78.0" fill="#ff6408"/>
<rect x="602.0" y="230.5" width="8.3" height="78.0" fill="#f83a00"/>
<rect x="610.0" y="230.5" width="42.3" height="78.0" fill="#f73602"/>
<rect x="652.0" y="230.5" width="26.3" height="78.0" fill="#f83808"/>
<rect x="678.0" y="230.5" width="8.3" height="78.0" fill="#f82010"/>
<rect x="686.0" y="230.5" width="34.3" height="78.0" fill="#f83808"/>
<rect x="720.0" y="230.5" width="2.3" height="78.0" fill="#e83008"/>
<rect x="722.0" y="230.5" width="26.3" height="78.0" fill="#ff6000"/>
<rect x="748.0" y="230.5" width="10.6" height="78.0" fill="#ff9008"/>
</g>
</g>
<line x1="356.5" y1="230.5" x2="356.5" y2="308.5" stroke="#000" stroke-width="1" stroke-dasharray="2.2 1.8"/>
<line x1="377.5" y1="230.5" x2="377.5" y2="308.5" stroke="#000" stroke-width="1" stroke-dasharray="2.2 1.8"/>
<line x1="398.5" y1="230.5" x2="398.5" y2="308.5" stroke="#000" stroke-width="1" stroke-dasharray="2.2 1.8"/>
<line x1="419.5" y1="230.5" x2="419.5" y2="308.5" stroke="#000" stroke-width="1" stroke-dasharray="2.2 1.8"/>
<line x1="440.5" y1="230.5" x2="440.5" y2="308.5" stroke="#000" stroke-width="1" stroke-dasharray="2.2 1.8"/>
<line x1="462.5" y1="230.5" x2="462.5" y2="308.5" stroke="#000" stroke-width="1" stroke-dasharray="2.2 1.8"/>
<line x1="483.5" y1="230.5" x2="483.5" y2="308.5" stroke="#000" stroke-width="1" stroke-dasharray="2.2 1.8"/>
<line x1="504.5" y1="230.5" x2="504.5" y2="308.5" stroke="#000" stroke-width="1" stroke-dasharray="2.2 1.8"/>
<line x1="525.5" y1="230.5" x2="525.5" y2="308.5" stroke="#000" stroke-width="1" stroke-dasharray="2.2 1.8"/>
<line x1="546.5" y1="230.5" x2="546.5" y2="308.5" stroke="#000" stroke-width="1" stroke-dasharray="2.2 1.8"/>
<line x1="567.5" y1="230.5" x2="567.5" y2="308.5" stroke="#000" stroke-width="1" stroke-dasharray="2.2 1.8"/>
<line x1="588.5" y1="230.5" x2="588.5" y2="308.5" stroke="#000" stroke-width="1" stroke-dasharray="2.2 1.8"/>
<line x1="609.5" y1="230.5" x2="609.5" y2="308.5" stroke="#000" stroke-width="1" stroke-dasharray="2.2 1.8"/>
<line x1="630.5" y1="230.5" x2="630.5" y2="308.5" stroke="#000" stroke-width="1" stroke-dasharray="2.2 1.8"/>
<line x1="652.5" y1="230.5" x2="652.5" y2="308.5" stroke="#000" stroke-width="1" stroke-dasharray="2.2 1.8"/>
<line x1="673.5" y1="230.5" x2="673.5" y2="308.5" stroke="#000" stroke-width="1" stroke-dasharray="2.2 1.8"/>
<line x1="694.5" y1="230.5" x2="694.5" y2="308.5" stroke="#000" stroke-width="1" stroke-dasharray="2.2 1.8"/>
<line x1="715.5" y1="230.5" x2="715.5" y2="308.5" stroke="#000" stroke-width="1" stroke-dasharray="2.2 1.8"/>
<line x1="736.5" y1="230.5" x2="736.5" y2="308.5" stroke="#000" stroke-width="1" stroke-dasharray="2.2 1.8"/>
<line x1="342.5" y1="240.5" x2="757.5" y2="240.5" stroke="#000" stroke-width="1" stroke-dasharray="2.2 1.8"/>
<line x1="342.5" y1="257.5" x2="757.5" y2="257.5" stroke="#000" stroke-width="1" stroke-dasharray="2.2 1.8"/>
<line x1="342.5" y1="274.5" x2="757.5" y2="274.5" stroke="#000" stroke-width="1" stroke-dasharray="2.2 1.8"/>
<line x1="342.5" y1="291.5" x2="757.5" y2="291.5" stroke="#000" stroke-width="1" stroke-dasharray="2.2 1.8"/>
<g clip-path="url(#p3)">
<polyline points="342.4,240.4 349.4,239.0 356.6,238.3 363.4,239.3 377.6,239.7 391.2,240.7 398.6,241.2 405.4,242.1 412.6,240.9 419.6,242.1 426.6,243.4 433.6,244.1 441.6,243.8 448.4,245.8 455.6,248.9 462.6,250.6 469.4,252.3 476.6,255.4 480.0,257.1 483.4,258.8 490.2,261.2 497.4,263.4 504.4,265.6 511.6,267.7 518.4,270.8 525.2,274.2 532.2,277.6 539.2,281.0 546.2,283.9 553.4,287.3 560.2,289.9 567.4,291.9 574.4,293.0 581.6,293.6 588.4,294.1 595.6,294.5 602.6,293.8 609.4,293.0 616.6,292.1 620.0,291.9 630.5,291.6 640.7,290.9 651.2,289.1 661.5,287.9 672.4,287.2 683.4,286.0 693.2,286.0 704.1,286.7 715.1,288.4 724.9,292.1 735.9,295.7 746.8,298.2 757.8,302.6" fill="none" stroke="#000" stroke-width="2.0" stroke-linejoin="round"/>
</g>
<rect x="342.5" y="230.5" width="415.0" height="78.0" fill="none" stroke="#000" stroke-width="1"/>
<line x1="343.0" y1="230.5" x2="757.0" y2="230.5" stroke="#484848" stroke-width="1"/>
<clipPath id="wfill"><polygon points="342.4,385.8 349.4,383.7 356.6,384.6 363.4,385.8 370.4,388.8 377.6,390.5 384.4,391.1 391.2,390.5 398.6,387.1 405.4,388.0 412.6,386.8 419.6,385.8 426.6,384.1 433.6,382.9 441.6,384.1 448.4,383.4 455.6,380.3 462.6,377.7 469.4,376.5 476.6,379.4 480.0,379.4 483.4,379.4 490.2,378.1 497.4,375.5 504.4,373.8 511.6,370.4 518.4,368.0 525.2,365.8 532.2,364.6 539.2,363.2 546.2,362.4 553.4,362.2 560.2,361.5 567.4,361.0 574.4,362.9 581.6,364.1 588.4,366.3 595.6,366.6 602.6,367.5 609.4,368.9 616.6,369.2 620.0,369.2 630.5,371.3 637.6,373.0 644.4,372.5 651.7,369.8 659.0,369.8 665.6,368.8 673.2,373.0 680.2,374.9 693.2,374.9 701.7,376.6 708.5,375.9 715.6,377.4 722.4,375.4 729.3,376.6 736.3,374.7 743.7,373.0 751.0,371.3 757.8,370.5 757.5,395.5 342.5,395.5"/></clipPath>
<g clip-path="url(#wfill)">
<rect x="342.5" y="317.5" width="13.6" height="78.0" fill="#10c4f8"/>
<rect x="355.8" y="317.5" width="14.5" height="78.0" fill="#00fcff"/>
<rect x="370.0" y="317.5" width="21.3" height="78.0" fill="#70f8fc"/>
<rect x="391.0" y="317.5" width="29.3" height="78.0" fill="#00fcff"/>
<rect x="420.0" y="317.5" width="35.3" height="78.0" fill="#00b4fc"/>
<rect x="455.0" y="317.5" width="49.7" height="78.0" fill="#007cf4"/>
<rect x="504.4" y="317.5" width="6.6" height="78.0" fill="#004a8c"/>
<rect x="510.7" y="317.5" width="20.8" height="78.0" fill="#008000"/>
<rect x="531.2" y="317.5" width="49.8" height="78.0" fill="#10c810"/>
<rect x="580.7" y="317.5" width="42.6" height="78.0" fill="#008000"/>
<rect x="623.0" y="317.5" width="29.0" height="78.0" fill="#004a8c"/>
<rect x="651.7" y="317.5" width="14.2" height="78.0" fill="#008000"/>
<rect x="665.6" y="317.5" width="14.0" height="78.0" fill="#004a8c"/>
<rect x="679.3" y="317.5" width="57.3" height="78.0" fill="#0080f4"/>
<rect x="736.3" y="317.5" width="22.3" height="78.0" fill="#004a8c"/>
<g clip-path="url(#night)">
<rect x="342.5" y="317.5" width="13.6" height="78.0" fill="#10c4f8"/>
<rect x="355.8" y="317.5" width="14.5" height="78.0" fill="#00fcff"/>
<rect x="370.0" y="317.5" width="21.3" height="78.0" fill="#70f8fc"/>
<rect x="391.0" y="317.5" width="29.3" height="78.0" fill="#00fcff"/>
<rect x="420.0" y="317.5" width="35.3" height="78.0" fill="#00b4fc"/>
<rect x="455.0" y="317.5" width="49.7" height="78.0" fill="#007cf4"/>
<rect x="504.4" y="317.5" width="6.6" height="78.0" fill="#004a8c"/>
<rect x="510.7" y="317.5" width="20.8" height="78.0" fill="#008000"/>
<rect x="531.2" y="317.5" width="49.8" height="78.0" fill="#10c810"/>
<rect x="580.7" y="317.5" width="42.6" height="78.0" fill="#008000"/>
<rect x="623.0" y="317.5" width="29.0" height="78.0" fill="#004a8c"/>
<rect x="651.7" y="317.5" width="14.2" height="78.0" fill="#008000"/>
<rect x="665.6" y="317.5" width="14.0" height="78.0" fill="#004a8c"/>
<rect x="679.3" y="317.5" width="57.3" height="78.0" fill="#0080f4"/>
<rect x="736.3" y="317.5" width="22.3" height="78.0" fill="#004a8c"/>
</g>
</g>
<g opacity="0.04" fill="none" stroke="#000" stroke-linecap="butt" clip-path="url(#wm)">
<path d="M 452 199 Q 415 198 392 212 Q 368 228 375 247 Q 383 273 408 291 Q 440 312 490 311" stroke-width="17"/>
<path d="M 488 134 Q 524 150 533 198 Q 540 250 522 296" stroke-width="16"/><path d="M 390 310 Q 400 345 430 360" stroke-width="16"/>
<path d="M 498 203 L 470 306" stroke-width="11"/>
</g>
<g opacity="0.04" clip-path="url(#wm)" font-weight="bold">
<text x="556" y="296" font-size="138" fill="#000" textLength="52" lengthAdjust="spacingAndGlyphs">c</text>
<text x="636" y="300" font-size="148" fill="#000" textLength="78" lengthAdjust="spacingAndGlyphs">m</text>
</g>
<line x1="356.5" y1="317.5" x2="356.5" y2="395.5" stroke="#000" stroke-width="1" stroke-dasharray="2.2 1.8"/>
<line x1="377.5" y1="317.5" x2="377.5" y2="395.5" stroke="#000" stroke-width="1" stroke-dasharray="2.2 1.8"/>
<line x1="398.5" y1="317.5" x2="398.5" y2="395.5" stroke="#000" stroke-width="1" stroke-dasharray="2.2 1.8"/>
<line x1="419.5" y1="317.5" x2="419.5" y2="395.5" stroke="#000" stroke-width="1" stroke-dasharray="2.2 1.8"/>
<line x1="440.5" y1="317.5" x2="440.5" y2="395.5" stroke="#000" stroke-width="1" stroke-dasharray="2.2 1.8"/>
<line x1="462.5" y1="317.5" x2="462.5" y2="395.5" stroke="#000" stroke-width="1" stroke-dasharray="2.2 1.8"/>
<line x1="483.5" y1="317.5" x2="483.5" y2="395.5" stroke="#000" stroke-width="1" stroke-dasharray="2.2 1.8"/>
<line x1="504.5" y1="317.5" x2="504.5" y2="395.5" stroke="#000" stroke-width="1" stroke-dasharray="2.2 1.8"/>
<line x1="525.5" y1="317.5" x2="525.5" y2="395.5" stroke="#000" stroke-width="1" stroke-dasharray="2.2 1.8"/>
<line x1="546.5" y1="317.5" x2="546.5" y2="395.5" stroke="#000" stroke-width="1" stroke-dasharray="2.2 1.8"/>
<line x1="567.5" y1="317.5" x2="567.5" y2="395.5" stroke="#000" stroke-width="1" stroke-dasharray="2.2 1.8"/>
<line x1="588.5" y1="317.5" x2="588.5" y2="395.5" stroke="#000" stroke-width="1" stroke-dasharray="2.2 1.8"/>
<line x1="609.5" y1="317.5" x2="609.5" y2="395.5" stroke="#000" stroke-width="1" stroke-dasharray="2.2 1.8"/>
<line x1="630.5" y1="317.5" x2="630.5" y2="395.5" stroke="#000" stroke-width="1" stroke-dasharray="2.2 1.8"/>
<line x1="652.5" y1="317.5" x2="652.5" y2="395.5" stroke="#000" stroke-width="1" stroke-dasharray="2.2 1.8"/>
<line x1="673.5" y1="317.5" x2="673.5" y2="395.5" stroke="#000" stroke-width="1" stroke-dasharray="2.2 1.8"/>
<line x1="694.5" y1="317.5" x2="694.5" y2="395.5" stroke="#000" stroke-width="1" stroke-dasharray="2.2 1.8"/>
<line x1="715.5" y1="317.5" x2="715.5" y2="395.5" stroke="#000" stroke-width="1" stroke-dasharray="2.2 1.8"/>
<line x1="736.5" y1="317.5" x2="736.5" y2="395.5" stroke="#000" stroke-width="1" stroke-dasharray="2.2 1.8"/>
<line x1="342.5" y1="318.5" x2="757.5" y2="318.5" stroke="#000" stroke-width="1" stroke-dasharray="2.2 1.8"/>
<line x1="342.5" y1="344.5" x2="757.5" y2="344.5" stroke="#000" stroke-width="1" stroke-dasharray="2.2 1.8"/>
<line x1="342.5" y1="369.5" x2="757.5" y2="369.5" stroke="#000" stroke-width="1" stroke-dasharray="2.2 1.8"/>
<g clip-path="url(#p4)">
<polyline points="342.4,385.8 349.4,383.7 356.6,384.6 363.4,385.8 370.4,388.8 377.6,390.5 384.4,391.1 391.2,390.5 398.6,387.1 405.4,388.0 412.6,386.8 419.6,385.8 426.6,384.1 433.6,382.9 441.6,384.1 448.4,383.4 455.6,380.3 462.6,377.7 469.4,376.5 476.6,379.4 480.0,379.4 483.4,379.4 490.2,378.1 497.4,375.5 504.4,373.8 511.6,370.4 518.4,368.0 525.2,365.8 532.2,364.6 539.2,363.2 546.2,362.4 553.4,362.2 560.2,361.5 567.4,361.0 574.4,362.9 581.6,364.1 588.4,366.3 595.6,366.6 602.6,367.5 609.4,368.9 616.6,369.2 620.0,369.2 630.5,371.3 637.6,373.0 644.4,372.5 651.7,369.8 659.0,369.8 665.6,368.8 673.2,373.0 680.2,374.9 693.2,374.9 701.7,376.6 708.5,375.9 715.6,377.4 722.4,375.4 729.3,376.6 736.3,374.7 743.7,373.0 751.0,371.3 757.8,370.5" fill="none" stroke="#00009c" stroke-width="2.2" stroke-linejoin="round"/>
<line x1="342.4" y1="368.5" x2="349.4" y2="368.5" stroke="#ff0000" stroke-width="1"/>
<line x1="349.4" y1="368.5" x2="356.6" y2="368.5" stroke="#ff0000" stroke-width="1"/>
<line x1="356.6" y1="367.5" x2="363.4" y2="367.5" stroke="#ff0000" stroke-width="1"/>
<line x1="363.4" y1="369.5" x2="370.4" y2="369.5" stroke="#ff0000" stroke-width="1"/>
<line x1="370.4" y1="375.5" x2="377.6" y2="375.5" stroke="#ff0000" stroke-width="1"/>
<line x1="377.6" y1="376.5" x2="384.4" y2="376.5" stroke="#ff0000" stroke-width="1"/>
<line x1="384.4" y1="378.5" x2="391.2" y2="378.5" stroke="#ff0000" stroke-width="1"/>
<line x1="391.2" y1="377.5" x2="398.6" y2="377.5" stroke="#ff0000" stroke-width="1"/>
<line x1="398.6" y1="374.5" x2="405.4" y2="374.5" stroke="#ff0000" stroke-width="1"/>
<line x1="405.4" y1="374.5" x2="412.6" y2="374.5" stroke="#ff0000" stroke-width="1"/>
<line x1="412.6" y1="372.5" x2="419.6" y2="372.5" stroke="#ff0000" stroke-width="1"/>
<line x1="419.6" y1="368.5" x2="426.6" y2="368.5" stroke="#ff0000" stroke-width="1"/>
<line x1="426.6" y1="368.5" x2="433.6" y2="368.5" stroke="#ff0000" stroke-width="1"/>
<line x1="433.6" y1="367.5" x2="441.6" y2="367.5" stroke="#ff0000" stroke-width="1"/>
<line x1="441.6" y1="363.5" x2="448.4" y2="363.5" stroke="#ff0000" stroke-width="1"/>
<line x1="448.4" y1="359.5" x2="455.6" y2="359.5" stroke="#ff0000" stroke-width="1"/>
<line x1="455.6" y1="356.5" x2="462.6" y2="356.5" stroke="#ff0000" stroke-width="1"/>
<line x1="462.6" y1="355.5" x2="469.4" y2="355.5" stroke="#ff0000" stroke-width="1"/>
<line x1="469.4" y1="356.5" x2="476.6" y2="356.5" stroke="#ff0000" stroke-width="1"/>
<line x1="476.6" y1="359.5" x2="483.4" y2="359.5" stroke="#ff0000" stroke-width="1"/>
<line x1="483.4" y1="359.5" x2="490.2" y2="359.5" stroke="#ff0000" stroke-width="1"/>
<line x1="490.2" y1="354.5" x2="497.4" y2="354.5" stroke="#ff0000" stroke-width="1"/>
<line x1="497.4" y1="350.5" x2="504.4" y2="350.5" stroke="#ff0000" stroke-width="1"/>
<line x1="504.4" y1="344.5" x2="511.6" y2="344.5" stroke="#ff0000" stroke-width="1"/>
<line x1="511.6" y1="340.5" x2="518.4" y2="340.5" stroke="#ff0000" stroke-width="1"/>
<line x1="518.4" y1="337.5" x2="525.2" y2="337.5" stroke="#ff0000" stroke-width="1"/>
<line x1="525.2" y1="334.5" x2="532.2" y2="334.5" stroke="#ff0000" stroke-width="1"/>
<line x1="532.2" y1="331.5" x2="539.2" y2="331.5" stroke="#ff0000" stroke-width="1"/>
<line x1="539.2" y1="330.5" x2="546.2" y2="330.5" stroke="#ff0000" stroke-width="1"/>
<line x1="546.2" y1="328.5" x2="553.4" y2="328.5" stroke="#ff0000" stroke-width="1"/>
<line x1="553.4" y1="328.5" x2="560.2" y2="328.5" stroke="#ff0000" stroke-width="1"/>
<line x1="560.2" y1="326.5" x2="567.4" y2="326.5" stroke="#ff0000" stroke-width="1"/>
<line x1="567.4" y1="327.5" x2="574.4" y2="327.5" stroke="#ff0000" stroke-width="1"/>
<line x1="574.4" y1="333.5" x2="581.6" y2="333.5" stroke="#ff0000" stroke-width="1"/>
<line x1="581.6" y1="333.5" x2="588.4" y2="333.5" stroke="#ff0000" stroke-width="1"/>
<line x1="588.4" y1="337.5" x2="595.6" y2="337.5" stroke="#ff0000" stroke-width="1"/>
<line x1="595.6" y1="338.5" x2="602.6" y2="338.5" stroke="#ff0000" stroke-width="1"/>
<line x1="602.6" y1="340.5" x2="609.4" y2="340.5" stroke="#ff0000" stroke-width="1"/>
<line x1="609.4" y1="344.5" x2="616.6" y2="344.5" stroke="#ff0000" stroke-width="1"/>
<line x1="616.6" y1="345.5" x2="620.9" y2="345.5" stroke="#ff0000" stroke-width="1"/>
<line x1="623.4" y1="345.5" x2="630.5" y2="345.5" stroke="#ff0000" stroke-width="1"/>
<line x1="630.5" y1="347.5" x2="637.6" y2="347.5" stroke="#ff0000" stroke-width="1"/>
<line x1="637.6" y1="351.5" x2="644.4" y2="351.5" stroke="#ff0000" stroke-width="1"/>
<line x1="644.4" y1="344.5" x2="651.7" y2="344.5" stroke="#ff0000" stroke-width="1"/>
<line x1="651.7" y1="343.5" x2="673.2" y2="343.5" stroke="#ff0000" stroke-width="1"/>
<line x1="673.2" y1="349.5" x2="680.2" y2="349.5" stroke="#ff0000" stroke-width="1"/>
<line x1="680.2" y1="351.5" x2="701.7" y2="351.5" stroke="#ff0000" stroke-width="1"/>
<line x1="701.7" y1="354.5" x2="715.6" y2="354.5" stroke="#ff0000" stroke-width="1"/>
<line x1="715.6" y1="355.5" x2="722.4" y2="355.5" stroke="#ff0000" stroke-width="1"/>
<line x1="722.4" y1="354.5" x2="736.3" y2="354.5" stroke="#ff0000" stroke-width="1"/>
<line x1="736.3" y1="351.5" x2="743.7" y2="351.5" stroke="#ff0000" stroke-width="1"/>
<line x1="743.7" y1="349.5" x2="751.0" y2="349.5" stroke="#ff0000" stroke-width="1"/>
<line x1="751.0" y1="345.5" x2="757.8" y2="345.5" stroke="#ff0000" stroke-width="1"/>
</g>
<rect x="342.5" y="317.5" width="415.0" height="78.0" fill="none" stroke="#000" stroke-width="1"/>
<line x1="343.0" y1="317.5" x2="757.0" y2="317.5" stroke="#484848" stroke-width="1"/>
<line x1="356.5" y1="401.5" x2="356.5" y2="431.5" stroke="#000" stroke-width="1" stroke-dasharray="2.2 1.8"/>
<line x1="377.5" y1="401.5" x2="377.5" y2="431.5" stroke="#000" stroke-width="1" stroke-dasharray="2.2 1.8"/>
<line x1="398.5" y1="401.5" x2="398.5" y2="431.5" stroke="#000" stroke-width="1" stroke-dasharray="2.2 1.8"/>
<line x1="419.5" y1="401.5" x2="419.5" y2="431.5" stroke="#000" stroke-width="1" stroke-dasharray="2.2 1.8"/>
<line x1="440.5" y1="401.5" x2="440.5" y2="431.5" stroke="#000" stroke-width="1" stroke-dasharray="2.2 1.8"/>
<line x1="462.5" y1="401.5" x2="462.5" y2="431.5" stroke="#000" stroke-width="1" stroke-dasharray="2.2 1.8"/>
<line x1="483.5" y1="401.5" x2="483.5" y2="431.5" stroke="#000" stroke-width="1" stroke-dasharray="2.2 1.8"/>
<line x1="504.5" y1="401.5" x2="504.5" y2="431.5" stroke="#000" stroke-width="1" stroke-dasharray="2.2 1.8"/>
<line x1="525.5" y1="401.5" x2="525.5" y2="431.5" stroke="#000" stroke-width="1" stroke-dasharray="2.2 1.8"/>
<line x1="546.5" y1="401.5" x2="546.5" y2="431.5" stroke="#000" stroke-width="1" stroke-dasharray="2.2 1.8"/>
<line x1="567.5" y1="401.5" x2="567.5" y2="431.5" stroke="#000" stroke-width="1" stroke-dasharray="2.2 1.8"/>
<line x1="588.5" y1="401.5" x2="588.5" y2="431.5" stroke="#000" stroke-width="1" stroke-dasharray="2.2 1.8"/>
<line x1="609.5" y1="401.5" x2="609.5" y2="431.5" stroke="#000" stroke-width="1" stroke-dasharray="2.2 1.8"/>
<line x1="630.5" y1="401.5" x2="630.5" y2="431.5" stroke="#000" stroke-width="1" stroke-dasharray="2.2 1.8"/>
<line x1="652.5" y1="401.5" x2="652.5" y2="431.5" stroke="#000" stroke-width="1" stroke-dasharray="2.2 1.8"/>
<line x1="673.5" y1="401.5" x2="673.5" y2="431.5" stroke="#000" stroke-width="1" stroke-dasharray="2.2 1.8"/>
<line x1="694.5" y1="401.5" x2="694.5" y2="431.5" stroke="#000" stroke-width="1" stroke-dasharray="2.2 1.8"/>
<line x1="715.5" y1="401.5" x2="715.5" y2="431.5" stroke="#000" stroke-width="1" stroke-dasharray="2.2 1.8"/>
<line x1="736.5" y1="401.5" x2="736.5" y2="431.5" stroke="#000" stroke-width="1" stroke-dasharray="2.2 1.8"/>
<rect x="342.5" y="401.5" width="415.0" height="30.0" fill="none" stroke="#000" stroke-width="1"/>
<line x1="343.0" y1="401.5" x2="757.0" y2="401.5" stroke="#484848" stroke-width="1"/>
<line x1="349.2" y1="417.0" x2="341.2" y2="417.0" stroke="#00009c" stroke-width="1.3"/>
<polygon points="335.8,417.0 341.2,414.3 341.2,419.7" fill="#00009c"/>
<line x1="356.3" y1="417.0" x2="348.3" y2="417.0" stroke="#00009c" stroke-width="1.3"/>
<polygon points="342.8,417.0 348.3,414.3 348.3,419.7" fill="#00009c"/>
<line x1="363.3" y1="417.0" x2="355.3" y2="417.0" stroke="#00009c" stroke-width="1.3"/>
<polygon points="349.8,417.0 355.3,414.3 355.3,419.7" fill="#00009c"/>
<line x1="370.4" y1="417.0" x2="362.4" y2="417.0" stroke="#00009c" stroke-width="1.3"/>
<polygon points="356.9,417.0 362.4,414.3 362.4,419.7" fill="#00009c"/>
<line x1="377.4" y1="417.0" x2="369.4" y2="417.0" stroke="#00009c" stroke-width="1.3"/>
<polygon points="363.9,417.0 369.4,414.3 369.4,419.7" fill="#00009c"/>
<line x1="383.1" y1="412.9" x2="376.7" y2="417.8" stroke="#00009c" stroke-width="1.3"/>
<polygon points="372.3,421.1 375.1,415.6 378.3,419.9" fill="#00009c"/>
<line x1="385.5" y1="410.3" x2="384.6" y2="418.2" stroke="#00009c" stroke-width="1.3"/>
<polygon points="383.9,423.7 381.9,417.9 387.2,418.6" fill="#00009c"/>
<line x1="388.7" y1="411.0" x2="392.3" y2="418.1" stroke="#00009c" stroke-width="1.3"/>
<polygon points="394.8,423.0 389.9,419.3 394.7,416.9" fill="#00009c"/>
<line x1="397.6" y1="410.4" x2="399.0" y2="418.2" stroke="#00009c" stroke-width="1.3"/>
<polygon points="400.0,423.6 396.3,418.7 401.7,417.8" fill="#00009c"/>
<line x1="399.6" y1="419.6" x2="407.0" y2="416.5" stroke="#00009c" stroke-width="1.3"/>
<polygon points="412.0,414.4 408.0,419.0 405.9,414.0" fill="#00009c"/>
<line x1="406.1" y1="417.0" x2="414.1" y2="417.0" stroke="#00009c" stroke-width="1.3"/>
<polygon points="419.6,417.0 414.1,419.7 414.1,414.3" fill="#00009c"/>
<line x1="413.4" y1="418.7" x2="421.1" y2="416.7" stroke="#00009c" stroke-width="1.3"/>
<polygon points="426.4,415.3 421.8,419.3 420.4,414.1" fill="#00009c"/>
<line x1="420.4" y1="418.7" x2="428.1" y2="416.7" stroke="#00009c" stroke-width="1.3"/>
<polygon points="433.4,415.3 428.8,419.3 427.4,414.1" fill="#00009c"/>
<line x1="427.2" y1="417.0" x2="435.2" y2="417.0" stroke="#00009c" stroke-width="1.3"/>
<polygon points="440.7,417.0 435.2,419.7 435.2,414.3" fill="#00009c"/>
<line x1="434.2" y1="417.0" x2="442.2" y2="417.0" stroke="#00009c" stroke-width="1.3"/>
<polygon points="447.7,417.0 442.2,419.7 442.2,414.3" fill="#00009c"/>
<line x1="441.3" y1="417.0" x2="449.3" y2="417.0" stroke="#00009c" stroke-width="1.3"/>
<polygon points="454.8,417.0 449.3,419.7 449.3,414.3" fill="#00009c"/>
<line x1="448.3" y1="416.4" x2="456.3" y2="417.1" stroke="#00009c" stroke-width="1.3"/>
<polygon points="461.8,417.6 456.1,419.8 456.5,414.4" fill="#00009c"/>
<line x1="455.6" y1="415.3" x2="463.3" y2="417.3" stroke="#00009c" stroke-width="1.3"/>
<polygon points="468.6,418.7 462.6,419.9 464.0,414.7" fill="#00009c"/>
<line x1="462.6" y1="415.3" x2="470.3" y2="417.3" stroke="#00009c" stroke-width="1.3"/>
<polygon points="475.6,418.7 469.6,419.9 471.0,414.7" fill="#00009c"/>
<line x1="469.4" y1="416.4" x2="477.4" y2="417.1" stroke="#00009c" stroke-width="1.3"/>
<polygon points="482.9,417.6 477.2,419.8 477.6,414.4" fill="#00009c"/>
<line x1="476.4" y1="417.0" x2="484.4" y2="417.0" stroke="#00009c" stroke-width="1.3"/>
<polygon points="489.9,417.0 484.4,419.7 484.4,414.3" fill="#00009c"/>
<line x1="483.5" y1="417.0" x2="491.5" y2="417.0" stroke="#00009c" stroke-width="1.3"/>
<polygon points="497.0,417.0 491.5,419.7 491.5,414.3" fill="#00009c"/>
<line x1="490.5" y1="417.0" x2="498.5" y2="417.0" stroke="#00009c" stroke-width="1.3"/>
<polygon points="504.0,417.0 498.5,419.7 498.5,414.3" fill="#00009c"/>
<line x1="497.6" y1="417.0" x2="505.6" y2="417.0" stroke="#00009c" stroke-width="1.3"/>
<polygon points="511.1,417.0 505.6,419.7 505.6,414.3" fill="#00009c"/>
<line x1="504.6" y1="417.0" x2="512.6" y2="417.0" stroke="#00009c" stroke-width="1.3"/>
<polygon points="518.1,417.0 512.6,419.7 512.6,414.3" fill="#00009c"/>
<line x1="511.6" y1="417.0" x2="519.6" y2="417.0" stroke="#00009c" stroke-width="1.3"/>
<polygon points="525.1,417.0 519.6,419.7 519.6,414.3" fill="#00009c"/>
<line x1="518.7" y1="417.0" x2="526.7" y2="417.0" stroke="#00009c" stroke-width="1.3"/>
<polygon points="532.2,417.0 526.7,419.7 526.7,414.3" fill="#00009c"/>
<line x1="525.7" y1="417.0" x2="533.7" y2="417.0" stroke="#00009c" stroke-width="1.3"/>
<polygon points="539.2,417.0 533.7,419.7 533.7,414.3" fill="#00009c"/>
<line x1="532.7" y1="417.0" x2="540.7" y2="417.0" stroke="#00009c" stroke-width="1.3"/>
<polygon points="546.2,417.0 540.7,419.7 540.7,414.3" fill="#00009c"/>
<line x1="539.8" y1="416.4" x2="547.8" y2="417.1" stroke="#00009c" stroke-width="1.3"/>
<polygon points="553.2,417.6 547.5,419.8 548.0,414.4" fill="#00009c"/>
<line x1="546.9" y1="415.6" x2="554.8" y2="417.3" stroke="#00009c" stroke-width="1.3"/>
<polygon points="560.2,418.4 554.2,419.9 555.3,414.6" fill="#00009c"/>
<line x1="554.2" y1="414.9" x2="561.8" y2="417.4" stroke="#00009c" stroke-width="1.3"/>
<polygon points="567.0,419.1 560.9,420.0 562.6,414.8" fill="#00009c"/>
<line x1="561.4" y1="414.5" x2="568.8" y2="417.5" stroke="#00009c" stroke-width="1.3"/>
<polygon points="573.9,419.5 567.8,420.0 569.8,415.0" fill="#00009c"/>
<line x1="568.7" y1="413.8" x2="575.8" y2="417.6" stroke="#00009c" stroke-width="1.3"/>
<polygon points="580.6,420.2 574.5,420.0 577.0,415.2" fill="#00009c"/>
<line x1="576.2" y1="413.1" x2="582.7" y2="417.7" stroke="#00009c" stroke-width="1.3"/>
<polygon points="587.2,420.9 581.2,419.9 584.3,415.5" fill="#00009c"/>
<line x1="583.7" y1="412.5" x2="589.7" y2="417.8" stroke="#00009c" stroke-width="1.3"/>
<polygon points="593.7,421.5 587.8,419.8 591.5,415.8" fill="#00009c"/>
<line x1="591.2" y1="412.0" x2="596.6" y2="417.9" stroke="#00009c" stroke-width="1.3"/>
<polygon points="600.3,422.0 594.6,419.7 598.6,416.1" fill="#00009c"/>
<line x1="598.6" y1="411.7" x2="603.6" y2="418.0" stroke="#00009c" stroke-width="1.3"/>
<polygon points="607.0,422.3 601.4,419.6 605.7,416.3" fill="#00009c"/>
<line x1="606.0" y1="411.5" x2="610.5" y2="418.0" stroke="#00009c" stroke-width="1.3"/>
<polygon points="613.7,422.5 608.3,419.6 612.8,416.5" fill="#00009c"/>
<line x1="613.3" y1="411.3" x2="617.5" y2="418.1" stroke="#00009c" stroke-width="1.3"/>
<polygon points="620.4,422.7 615.2,419.5 619.8,416.6" fill="#00009c"/>
<line x1="620.5" y1="411.2" x2="624.5" y2="418.1" stroke="#00009c" stroke-width="1.3"/>
<polygon points="627.3,422.8 622.2,419.4 626.9,416.7" fill="#00009c"/>
<line x1="627.8" y1="411.0" x2="631.5" y2="418.1" stroke="#00009c" stroke-width="1.3"/>
<polygon points="634.1,423.0 629.1,419.4 633.9,416.8" fill="#00009c"/>
<line x1="635.1" y1="410.9" x2="638.5" y2="418.1" stroke="#00009c" stroke-width="1.3"/>
<polygon points="640.8,423.1 636.1,419.3 640.9,417.0" fill="#00009c"/>
<line x1="642.2" y1="410.9" x2="645.5" y2="418.1" stroke="#00009c" stroke-width="1.3"/>
<polygon points="647.9,423.1 643.1,419.3 648.0,417.0" fill="#00009c"/>
<line x1="649.2" y1="410.9" x2="652.6" y2="418.1" stroke="#00009c" stroke-width="1.3"/>
<polygon points="654.9,423.1 650.1,419.3 655.0,417.0" fill="#00009c"/>
<line x1="656.1" y1="410.9" x2="659.6" y2="418.1" stroke="#00009c" stroke-width="1.3"/>
<polygon points="662.0,423.1 657.2,419.3 662.0,416.9" fill="#00009c"/>
<line x1="662.9" y1="411.0" x2="666.7" y2="418.1" stroke="#00009c" stroke-width="1.3"/>
<polygon points="669.3,423.0 664.3,419.4 669.1,416.8" fill="#00009c"/>
<line x1="669.8" y1="411.2" x2="673.8" y2="418.1" stroke="#00009c" stroke-width="1.3"/>
<polygon points="676.5,422.8 671.4,419.4 676.1,416.7" fill="#00009c"/>
<line x1="676.4" y1="411.4" x2="680.9" y2="418.0" stroke="#00009c" stroke-width="1.3"/>
<polygon points="684.0,422.6 678.6,419.5 683.1,416.5" fill="#00009c"/>
<line x1="682.9" y1="411.8" x2="688.0" y2="418.0" stroke="#00009c" stroke-width="1.3"/>
<polygon points="691.6,422.2 686.0,419.7 690.1,416.2" fill="#00009c"/>
<line x1="689.5" y1="412.2" x2="695.1" y2="417.9" stroke="#00009c" stroke-width="1.3"/>
<polygon points="699.0,421.8 693.2,419.8 697.0,416.0" fill="#00009c"/>
<line x1="696.1" y1="412.7" x2="702.2" y2="417.8" stroke="#00009c" stroke-width="1.3"/>
<polygon points="706.5,421.3 700.5,419.9 704.0,415.7" fill="#00009c"/>
<line x1="702.7" y1="413.2" x2="709.4" y2="417.7" stroke="#00009c" stroke-width="1.3"/>
<polygon points="713.9,420.8 707.8,419.9 710.9,415.5" fill="#00009c"/>
<line x1="709.4" y1="413.8" x2="716.5" y2="417.6" stroke="#00009c" stroke-width="1.3"/>
<polygon points="721.3,420.2 715.2,420.0 717.7,415.2" fill="#00009c"/>
<line x1="716.1" y1="414.5" x2="723.5" y2="417.5" stroke="#00009c" stroke-width="1.3"/>
<polygon points="728.6,419.5 722.5,420.0 724.6,415.0" fill="#00009c"/>
<line x1="722.9" y1="415.1" x2="730.6" y2="417.3" stroke="#00009c" stroke-width="1.3"/>
<polygon points="735.9,418.9 729.9,419.9 731.4,414.7" fill="#00009c"/>
<line x1="729.8" y1="415.8" x2="737.7" y2="417.2" stroke="#00009c" stroke-width="1.3"/>
<polygon points="743.1,418.2 737.2,419.9 738.2,414.6" fill="#00009c"/>
<line x1="736.8" y1="416.3" x2="744.7" y2="417.1" stroke="#00009c" stroke-width="1.3"/>
<polygon points="750.2,417.7 744.5,419.8 745.0,414.4" fill="#00009c"/>
<line x1="743.8" y1="416.5" x2="751.8" y2="417.1" stroke="#00009c" stroke-width="1.3"/>
<polygon points="757.3,417.5 751.6,419.8 752.0,414.4" fill="#00009c"/>
<line x1="750.8" y1="416.8" x2="758.8" y2="417.0" stroke="#00009c" stroke-width="1.3"/>
<polygon points="764.3,417.2 758.7,419.7 758.9,414.3" fill="#00009c"/>
<g>
<polygon points="342.5,438.5 757.5,438.5 757.5,516.5 342.5,516.5" fill="#87d4ff"/>
<g clip-path="url(#night)">
<polygon points="342.5,438.5 757.5,438.5 757.5,516.5 342.5,516.5" fill="#7cc3eb"/>
</g>
</g>
<g clip-path="url(#p6)">
<circle cx="342.5" cy="492.6" r="2.7" fill="#b22222"/>
<circle cx="349.5" cy="491.4" r="2.7" fill="#b22222"/>
<circle cx="356.6" cy="491.4" r="2.7" fill="#b22222"/>
<circle cx="363.6" cy="490.1" r="2.7" fill="#b22222"/>
<circle cx="370.6" cy="491.2" r="2.7" fill="#b22222"/>
<circle cx="377.7" cy="491.2" r="2.7" fill="#b22222"/>
<circle cx="384.7" cy="491.2" r="2.7" fill="#b22222"/>
<circle cx="391.7" cy="491.4" r="2.7" fill="#b22222"/>
<circle cx="398.8" cy="447.4" r="2.7" fill="#b22222"/>
<circle cx="405.8" cy="448.2" r="2.7" fill="#b22222"/>
<circle cx="412.9" cy="448.6" r="2.7" fill="#b22222"/>
<circle cx="419.9" cy="448.7" r="2.7" fill="#b22222"/>
<circle cx="426.9" cy="447.4" r="2.7" fill="#b22222"/>
<circle cx="434.0" cy="448.6" r="2.7" fill="#b22222"/>
<circle cx="441.0" cy="447.4" r="2.7" fill="#b22222"/>
<circle cx="448.0" cy="447.4" r="2.7" fill="#b22222"/>
<circle cx="455.1" cy="445.3" r="2.7" fill="#b22222"/>
<circle cx="462.1" cy="445.3" r="2.7" fill="#b22222"/>
<circle cx="469.1" cy="445.3" r="2.7" fill="#b22222"/>
<circle cx="476.2" cy="445.3" r="2.7" fill="#b22222"/>
<circle cx="483.2" cy="445.3" r="2.7" fill="#b22222"/>
<circle cx="490.2" cy="445.3" r="2.7" fill="#b22222"/>
<circle cx="497.3" cy="445.3" r="2.7" fill="#b22222"/>
<circle cx="504.3" cy="445.3" r="2.7" fill="#b22222"/>
<circle cx="511.3" cy="445.3" r="2.7" fill="#b22222"/>
<circle cx="518.4" cy="445.3" r="2.7" fill="#b22222"/>
<circle cx="525.4" cy="445.3" r="2.7" fill="#b22222"/>
<circle cx="532.4" cy="445.3" r="2.7" fill="#b22222"/>
<circle cx="539.5" cy="444.0" r="2.7" fill="#b22222"/>
<circle cx="546.5" cy="444.0" r="2.7" fill="#b22222"/>
<circle cx="553.5" cy="444.0" r="2.7" fill="#b22222"/>
<circle cx="560.6" cy="444.0" r="2.7" fill="#b22222"/>
<circle cx="567.6" cy="445.3" r="2.7" fill="#b22222"/>
<circle cx="574.7" cy="475.5" r="2.7" fill="#b22222"/>
<circle cx="581.7" cy="476.9" r="2.7" fill="#b22222"/>
<circle cx="588.7" cy="480.7" r="2.7" fill="#b22222"/>
<circle cx="595.8" cy="482.4" r="2.7" fill="#b22222"/>
<circle cx="602.8" cy="483.7" r="2.7" fill="#b22222"/>
<circle cx="609.8" cy="485.8" r="2.7" fill="#b22222"/>
<circle cx="616.9" cy="487.0" r="2.7" fill="#b22222"/>
<circle cx="623.9" cy="488.8" r="2.7" fill="#b22222"/>
<circle cx="630.9" cy="491.3" r="2.7" fill="#b22222"/>
<circle cx="638.0" cy="489.8" r="2.7" fill="#b22222"/>
<circle cx="645.0" cy="491.3" r="2.7" fill="#b22222"/>
<circle cx="652.0" cy="491.3" r="2.7" fill="#b22222"/>
<circle cx="659.1" cy="491.3" r="2.7" fill="#b22222"/>
<circle cx="666.1" cy="491.3" r="2.7" fill="#b22222"/>
<circle cx="673.1" cy="484.0" r="2.7" fill="#b22222"/>
<circle cx="680.2" cy="483.7" r="2.7" fill="#b22222"/>
<circle cx="687.2" cy="482.0" r="2.7" fill="#b22222"/>
<circle cx="694.2" cy="480.8" r="2.7" fill="#b22222"/>
<circle cx="701.3" cy="483.7" r="2.7" fill="#b22222"/>
<circle cx="708.3" cy="484.0" r="2.7" fill="#b22222"/>
<circle cx="715.4" cy="448.6" r="2.7" fill="#b22222"/>
<circle cx="722.4" cy="448.6" r="2.7" fill="#b22222"/>
<circle cx="729.4" cy="445.9" r="2.7" fill="#b22222"/>
<circle cx="736.5" cy="455.7" r="2.7" fill="#b22222"/>
<circle cx="743.5" cy="445.9" r="2.7" fill="#b22222"/>
<circle cx="750.5" cy="445.9" r="2.7" fill="#b22222"/>
<circle cx="757.6" cy="445.9" r="2.7" fill="#b22222"/>
<circle cx="342.5" cy="499.4" r="2.7" fill="#ffffff"/>
<circle cx="342.5" cy="496.8" r="2.7" fill="#d4d0cc"/>
<circle cx="342.5" cy="493.1" r="2.7" fill="#000000"/>
<circle cx="349.5" cy="499.4" r="2.7" fill="#ffffff"/>
<circle cx="349.5" cy="496.8" r="2.7" fill="#d4d0cc"/>
<circle cx="349.5" cy="493.1" r="2.7" fill="#505050"/>
<circle cx="356.6" cy="499.4" r="2.7" fill="#ffffff"/>
<circle cx="356.6" cy="496.8" r="2.7" fill="#d4d0cc"/>
<circle cx="356.6" cy="493.1" r="2.7" fill="#505050"/>
<circle cx="363.6" cy="498.6" r="2.7" fill="#ffffff"/>
<circle cx="363.6" cy="496.5" r="2.7" fill="#d4d0cc"/>
<circle cx="363.6" cy="493.5" r="2.7" fill="#8c8c8c"/>
<circle cx="370.6" cy="497.7" r="2.7" fill="#ffffff"/>
<circle cx="370.6" cy="495.4" r="2.7" fill="#d4d0cc"/>
<circle cx="370.6" cy="492.1" r="2.7" fill="#606060"/>
<circle cx="377.7" cy="496.9" r="2.7" fill="#ffffff"/>
<circle cx="377.7" cy="495.0" r="2.7" fill="#d4d0cc"/>
<circle cx="377.7" cy="492.1" r="2.7" fill="#606060"/>
<circle cx="384.7" cy="496.0" r="2.7" fill="#ffffff"/>
<circle cx="384.7" cy="494.6" r="2.7" fill="#d4d0cc"/>
<circle cx="384.7" cy="492.1" r="2.7" fill="#606060"/>
<circle cx="391.7" cy="496.0" r="2.7" fill="#ffffff"/>
<circle cx="391.7" cy="494.6" r="2.7" fill="#d4d0cc"/>
<circle cx="391.7" cy="492.1" r="2.7" fill="#606060"/>
<circle cx="398.8" cy="495.7" r="2.7" fill="#ffffff"/>
<circle cx="398.8" cy="494.6" r="2.7" fill="#d4d0cc"/>
<circle cx="398.8" cy="492.6" r="2.7" fill="#606060"/>
<circle cx="405.8" cy="495.7" r="2.7" fill="#ffffff"/>
<circle cx="405.8" cy="494.4" r="2.7" fill="#d4d0cc"/>
<circle cx="405.8" cy="492.1" r="2.7" fill="#707070"/>
<circle cx="412.9" cy="496.0" r="2.7" fill="#ffffff"/>
<circle cx="412.9" cy="494.0" r="2.7" fill="#d4d0cc"/>
<circle cx="412.9" cy="490.9" r="2.7" fill="#000000"/>
<circle cx="419.9" cy="496.5" r="2.7" fill="#ffffff"/>
<circle cx="419.9" cy="494.8" r="2.7" fill="#d4d0cc"/>
<circle cx="419.9" cy="492.1" r="2.7" fill="#000000"/>
<circle cx="426.9" cy="496.9" r="2.7" fill="#ffffff"/>
<circle cx="426.9" cy="494.6" r="2.7" fill="#d4d0cc"/>
<circle cx="426.9" cy="491.2" r="2.7" fill="#000000"/>
<circle cx="434.0" cy="496.9" r="2.7" fill="#ffffff"/>
<circle cx="434.0" cy="495.0" r="2.7" fill="#d4d0cc"/>
<circle cx="434.0" cy="492.1" r="2.7" fill="#000000"/>
<circle cx="441.0" cy="496.0" r="2.7" fill="#ffffff"/>
<circle cx="441.0" cy="494.1" r="2.7" fill="#d4d0cc"/>
<circle cx="441.0" cy="491.2" r="2.7" fill="#000000"/>
<circle cx="448.0" cy="496.9" r="2.7" fill="#ffffff"/>
<circle cx="448.0" cy="495.0" r="2.7" fill="#d4d0cc"/>
<circle cx="448.0" cy="492.1" r="2.7" fill="#707070"/>
<circle cx="455.1" cy="496.9" r="2.7" fill="#ffffff"/>
<circle cx="455.1" cy="495.0" r="2.7" fill="#d4d0cc"/>
<circle cx="455.1" cy="492.1" r="2.7" fill="#000000"/>
<circle cx="462.1" cy="496.5" r="2.7" fill="#ffffff"/>
<circle cx="462.1" cy="494.8" r="2.7" fill="#d4d0cc"/>
<circle cx="462.1" cy="492.1" r="2.7" fill="#000000"/>
<circle cx="469.1" cy="496.9" r="2.7" fill="#ffffff"/>
<circle cx="469.1" cy="495.5" r="2.7" fill="#d4d0cc"/>
<circle cx="469.1" cy="493.1" r="2.7" fill="#707070"/>
<circle cx="476.2" cy="498.9" r="2.7" fill="#ffffff"/>
<circle cx="476.2" cy="496.5" r="2.7" fill="#d4d0cc"/>
<circle cx="476.2" cy="493.1" r="2.7" fill="#000000"/>
<circle cx="483.2" cy="455.9" r="2.7" fill="#d4d0cc"/>
<circle cx="483.2" cy="452.8" r="2.7" fill="#505050"/>
<circle cx="490.2" cy="456.8" r="2.7" fill="#d4d0cc"/>
<circle cx="490.2" cy="453.3" r="2.7" fill="#606060"/>
<circle cx="497.3" cy="457.3" r="2.7" fill="#d4d0cc"/>
<circle cx="497.3" cy="453.9" r="2.7" fill="#707070"/>
<circle cx="504.3" cy="458.5" r="2.7" fill="#ffffff"/>
<circle cx="504.3" cy="455.6" r="2.7" fill="#8c8c8c"/>
<circle cx="504.3" cy="452.5" r="2.7" fill="#000000"/>
<circle cx="511.3" cy="461.0" r="2.7" fill="#d4d0cc"/>
<circle cx="511.3" cy="457.6" r="2.7" fill="#8c8c8c"/>
<circle cx="511.3" cy="453.3" r="2.7" fill="#000000"/>
<circle cx="518.4" cy="461.0" r="2.7" fill="#d4d0cc"/>
<circle cx="518.4" cy="457.6" r="2.7" fill="#8c8c8c"/>
<circle cx="518.4" cy="453.3" r="2.7" fill="#000000"/>
<circle cx="525.4" cy="451.1" r="2.7" fill="#000000"/>
<circle cx="532.4" cy="462.4" r="2.7" fill="#d4d0cc"/>
<circle cx="532.4" cy="458.5" r="2.7" fill="#8c8c8c"/>
<circle cx="532.4" cy="455.0" r="2.7" fill="#404040"/>
<circle cx="539.5" cy="477.8" r="2.7" fill="#000000"/>
<circle cx="546.5" cy="451.6" r="2.7" fill="#000000"/>
<circle cx="483.2" cy="497.7" r="2.7" fill="#ffffff"/>
<circle cx="483.2" cy="495.5" r="2.7" fill="#808080"/>
<circle cx="490.2" cy="496.9" r="2.7" fill="#ffffff"/>
<circle cx="497.3" cy="501.1" r="2.7" fill="#ffffff"/>
<circle cx="504.3" cy="502.3" r="2.7" fill="#ffffff"/>
<circle cx="511.3" cy="501.7" r="2.7" fill="#ffffff"/>
<circle cx="518.4" cy="501.1" r="2.7" fill="#ffffff"/>
<circle cx="525.4" cy="500.3" r="2.7" fill="#ffffff"/>
<circle cx="525.4" cy="498.6" r="2.7" fill="#505050"/>
<circle cx="532.4" cy="501.1" r="2.7" fill="#ffffff"/>
<circle cx="532.4" cy="499.4" r="2.7" fill="#d8d8d8"/>
<circle cx="539.5" cy="501.1" r="2.7" fill="#ffffff"/>
<circle cx="539.5" cy="499.4" r="2.7" fill="#d4d0cc"/>
<circle cx="539.5" cy="496.9" r="2.7" fill="#909090"/>
<circle cx="546.5" cy="503.4" r="2.7" fill="#ffffff"/>
<circle cx="546.5" cy="501.1" r="2.7" fill="#505050"/>
<circle cx="553.5" cy="508.0" r="2.7" fill="#ffffff"/>
<circle cx="553.5" cy="506.3" r="2.7" fill="#d4d0cc"/>
<circle cx="553.5" cy="503.7" r="2.7" fill="#8c8c8c"/>
<circle cx="553.5" cy="499.4" r="2.7" fill="#000000"/>
<circle cx="560.6" cy="510.5" r="2.7" fill="#d4d0cc"/>
<circle cx="560.6" cy="508.8" r="2.7" fill="#8c8c8c"/>
<circle cx="560.6" cy="506.3" r="2.7" fill="#505050"/>
<circle cx="560.6" cy="503.4" r="2.7" fill="#000000"/>
<circle cx="567.6" cy="510.9" r="2.7" fill="#d4d0cc"/>
<circle cx="567.6" cy="509.7" r="2.7" fill="#8c8c8c"/>
<circle cx="567.6" cy="507.1" r="2.7" fill="#000000"/>
<circle cx="574.7" cy="510.5" r="2.7" fill="#000000"/>
<circle cx="581.7" cy="510.5" r="2.7" fill="#000000"/>
<circle cx="588.7" cy="510.5" r="2.7" fill="#000000"/>
<circle cx="595.8" cy="510.5" r="2.7" fill="#000000"/>
<circle cx="602.8" cy="510.5" r="2.7" fill="#000000"/>
<circle cx="609.8" cy="510.5" r="2.7" fill="#000000"/>
<circle cx="616.9" cy="510.5" r="2.7" fill="#000000"/>
<circle cx="623.9" cy="510.5" r="2.7" fill="#000000"/>
<circle cx="630.9" cy="510.5" r="2.7" fill="#000000"/>
<circle cx="638.0" cy="510.5" r="2.7" fill="#000000"/>
<circle cx="645.0" cy="510.5" r="2.7" fill="#000000"/>
<circle cx="652.0" cy="510.5" r="2.7" fill="#000000"/>
<circle cx="659.1" cy="510.5" r="2.7" fill="#000000"/>
<circle cx="666.1" cy="510.5" r="2.7" fill="#000000"/>
<circle cx="673.1" cy="510.5" r="2.7" fill="#000000"/>
<circle cx="680.2" cy="510.5" r="2.7" fill="#000000"/>
<circle cx="687.2" cy="510.5" r="2.7" fill="#000000"/>
<circle cx="694.2" cy="510.5" r="2.7" fill="#000000"/>
<circle cx="701.3" cy="510.5" r="2.7" fill="#000000"/>
<circle cx="708.3" cy="510.5" r="2.7" fill="#000000"/>
<circle cx="715.4" cy="510.5" r="2.7" fill="#000000"/>
<circle cx="722.4" cy="510.5" r="2.7" fill="#000000"/>
<circle cx="729.4" cy="510.5" r="2.7" fill="#000000"/>
<circle cx="736.5" cy="510.5" r="2.7" fill="#000000"/>
<circle cx="743.5" cy="510.5" r="2.7" fill="#000000"/>
<circle cx="750.5" cy="510.5" r="2.7" fill="#000000"/>
<circle cx="757.6" cy="510.5" r="2.7" fill="#000000"/>
<circle cx="659.1" cy="509.5" r="2.7" fill="#808080"/>
<circle cx="659.1" cy="496.4" r="2.7" fill="#000000"/>
<circle cx="419.9" cy="508.3" r="2.2" fill="#8cc8f0" stroke="#fff" stroke-width="1.4"/>
</g>
<line x1="356.5" y1="438.5" x2="356.5" y2="516.5" stroke="#000" stroke-width="1" stroke-dasharray="2.2 1.8"/>
<line x1="377.5" y1="438.5" x2="377.5" y2="516.5" stroke="#000" stroke-width="1" stroke-dasharray="2.2 1.8"/>
<line x1="398.5" y1="438.5" x2="398.5" y2="516.5" stroke="#000" stroke-width="1" stroke-dasharray="2.2 1.8"/>
<line x1="419.5" y1="438.5" x2="419.5" y2="516.5" stroke="#000" stroke-width="1" stroke-dasharray="2.2 1.8"/>
<line x1="440.5" y1="438.5" x2="440.5" y2="516.5" stroke="#000" stroke-width="1" stroke-dasharray="2.2 1.8"/>
<line x1="462.5" y1="438.5" x2="462.5" y2="516.5" stroke="#000" stroke-width="1" stroke-dasharray="2.2 1.8"/>
<line x1="483.5" y1="438.5" x2="483.5" y2="516.5" stroke="#000" stroke-width="1" stroke-dasharray="2.2 1.8"/>
<line x1="504.5" y1="438.5" x2="504.5" y2="516.5" stroke="#000" stroke-width="1" stroke-dasharray="2.2 1.8"/>
<line x1="525.5" y1="438.5" x2="525.5" y2="516.5" stroke="#000" stroke-width="1" stroke-dasharray="2.2 1.8"/>
<line x1="546.5" y1="438.5" x2="546.5" y2="516.5" stroke="#000" stroke-width="1" stroke-dasharray="2.2 1.8"/>
<line x1="567.5" y1="438.5" x2="567.5" y2="516.5" stroke="#000" stroke-width="1" stroke-dasharray="2.2 1.8"/>
<line x1="588.5" y1="438.5" x2="588.5" y2="516.5" stroke="#000" stroke-width="1" stroke-dasharray="2.2 1.8"/>
<line x1="609.5" y1="438.5" x2="609.5" y2="516.5" stroke="#000" stroke-width="1" stroke-dasharray="2.2 1.8"/>
<line x1="630.5" y1="438.5" x2="630.5" y2="516.5" stroke="#000" stroke-width="1" stroke-dasharray="2.2 1.8"/>
<line x1="652.5" y1="438.5" x2="652.5" y2="516.5" stroke="#000" stroke-width="1" stroke-dasharray="2.2 1.8"/>
<line x1="673.5" y1="438.5" x2="673.5" y2="516.5" stroke="#000" stroke-width="1" stroke-dasharray="2.2 1.8"/>
<line x1="694.5" y1="438.5" x2="694.5" y2="516.5" stroke="#000" stroke-width="1" stroke-dasharray="2.2 1.8"/>
<line x1="715.5" y1="438.5" x2="715.5" y2="516.5" stroke="#000" stroke-width="1" stroke-dasharray="2.2 1.8"/>
<line x1="736.5" y1="438.5" x2="736.5" y2="516.5" stroke="#000" stroke-width="1" stroke-dasharray="2.2 1.8"/>
<line x1="342.5" y1="457.5" x2="757.5" y2="457.5" stroke="#000" stroke-width="1" stroke-dasharray="2.2 1.8"/>
<line x1="342.5" y1="477.5" x2="757.5" y2="477.5" stroke="#000" stroke-width="1" stroke-dasharray="2.2 1.8"/>
<line x1="342.5" y1="496.5" x2="757.5" y2="496.5" stroke="#000" stroke-width="1" stroke-dasharray="2.2 1.8"/>
<g clip-path="url(#p6)">
<polyline points="342.4,448.2 377.6,448.2 391.2,448.7 398.6,449.6 405.4,450.8 412.6,452.1 419.6,453.0 426.6,453.7 433.6,454.2 441.6,454.5 448.4,453.3 455.6,453.3 462.6,453.9 469.4,454.2 480.0,455.0 490.2,456.8 504.4,456.8 518.4,454.5 532.2,455.6 546.2,455.9 553.4,457.3 560.2,459.0 563.7,473.0 567.4,490.1 570.5,503.7 574.4,514.5 620.0,515.1 655.0,515.0 659.3,512.0 663.5,515.0 758.0,515.0" fill="none" stroke="#ff9a00" stroke-width="2.0" stroke-linejoin="round"/>
</g>
<rect x="342.5" y="438.5" width="415.0" height="78.0" fill="none" stroke="#000" stroke-width="1"/>
<line x1="343.0" y1="438.5" x2="757.0" y2="438.5" stroke="#484848" stroke-width="1"/>
<g>
<polygon points="342.5,525.5 757.5,525.5 757.5,603.5 342.5,603.5" fill="#87d4ff"/>
<g clip-path="url(#night)">
<polygon points="342.5,525.5 757.5,525.5 757.5,603.5 342.5,603.5" fill="#7cc3eb"/>
</g>
</g>
<g clip-path="url(#p7)">
<polygon points="391.2,603.0 398.6,597.9 405.4,586.3 412.6,587.7 419.6,596.2 426.6,596.9 433.6,594.0 441.6,584.9 447.9,582.0 455.2,571.8 462.2,568.4 469.2,553.9 474.9,544.0 480.0,535.1 484.3,528.0 490.2,525.8 553.4,525.8 554.1,527.8 573.0,599.5 573.0,603.5 391.2,603.5" fill="#ffffff"/>
</g>
<g clip-path="url(#p7)">
<polygon points="480.0,598.2 490.2,594.8 497.4,594.0 504.4,593.1 511.6,589.7 518.4,588.9 525.2,577.8 532.2,567.5 539.2,553.0 544.0,550.4 546.2,549.6 553.4,538.5 560.2,528.2 567.4,525.5 644.0,525.5 649.0,530.0 652.3,531.0 656.0,528.5 659.3,525.5 758.3,525.5 757.5,603.5 480.0,603.5" fill="#9a9a9a"/>
<g clip-path="url(#night)">
<polygon points="480.0,598.2 490.2,594.8 497.4,594.0 504.4,593.1 511.6,589.7 518.4,588.9 525.2,577.8 532.2,567.5 539.2,553.0 544.0,550.4 546.2,549.6 553.4,538.5 560.2,528.2 567.4,525.5 644.0,525.5 649.0,530.0 652.3,531.0 656.0,528.5 659.3,525.5 758.3,525.5 757.5,603.5 480.0,603.5" fill="#8e8e8e"/>
</g>
</g>
<g clip-path="url(#p7)">
<polygon points="342.4,540.2 349.4,555.6 356.6,556.9 363.4,571.8 370.4,570.1 377.6,562.7 384.4,558.1 391.2,553.0 398.6,546.2 405.4,566.3 412.6,553.9 419.6,555.6 426.6,552.1 433.6,557.6 441.6,534.2 447.9,535.6 455.2,552.1 462.2,562.7 469.2,551.3 476.2,558.1 480.0,567.5 483.4,577.8 490.2,595.7 497.4,598.2 504.4,600.0 511.6,600.0 518.4,601.7 521.8,589.7 525.2,576.9 532.2,589.7 539.2,565.8 546.2,534.2 553.4,530.0 560.2,526.5 567.4,525.5 644.0,525.5 649.0,530.0 652.3,531.0 656.0,528.5 659.3,525.5 758.3,525.5 757.5,603.5 342.5,603.5" fill="#585858"/>
<g clip-path="url(#night)">
<polygon points="342.4,540.2 349.4,555.6 356.6,556.9 363.4,571.8 370.4,570.1 377.6,562.7 384.4,558.1 391.2,553.0 398.6,546.2 405.4,566.3 412.6,553.9 419.6,555.6 426.6,552.1 433.6,557.6 441.6,534.2 447.9,535.6 455.2,552.1 462.2,562.7 469.2,551.3 476.2,558.1 480.0,567.5 483.4,577.8 490.2,595.7 497.4,598.2 504.4,600.0 511.6,600.0 518.4,601.7 521.8,589.7 525.2,576.9 532.2,589.7 539.2,565.8 546.2,534.2 553.4,530.0 560.2,526.5 567.4,525.5 644.0,525.5 649.0,530.0 652.3,531.0 656.0,528.5 659.3,525.5 758.3,525.5 757.5,603.5 342.5,603.5" fill="#515151"/>
</g>
</g>
<g clip-path="url(#p7)">
<polygon points="553.4,603.0 560.8,575.0 567.5,543.0 572.0,525.5 638.0,525.5 645.4,533.0 652.3,545.0 659.3,548.0 666.4,531.0 672.0,525.5 758.3,525.5 757.5,603.5" fill="#3a3a3a"/>
<g clip-path="url(#night)">
<polygon points="553.4,603.0 560.8,575.0 567.5,543.0 572.0,525.5 638.0,525.5 645.4,533.0 652.3,545.0 659.3,548.0 666.4,531.0 672.0,525.5 758.3,525.5 757.5,603.5" fill="#353535"/>
</g>
</g>
<g clip-path="url(#p7)">
<polyline points="545.6,548.0 553.5,564.3 559.3,546.7 562.0,552.0" fill="none" stroke="#9a9a9a" stroke-width="1" stroke-linejoin="round"/>
<polyline points="391.2,603.0 398.6,597.9 405.4,586.3 412.6,587.7 419.6,596.2 426.6,596.9 433.6,594.0 441.6,584.9 447.9,582.0 455.2,571.8 462.2,568.4 469.2,553.9 474.9,544.0 480.0,535.1 484.3,528.0 490.2,525.8 553.4,525.8 554.1,527.8 573.0,599.5" fill="none" stroke="#f4f4f4" stroke-width="1.1" stroke-linejoin="round"/>
<polyline points="569.7,587.8 573.0,580.0 575.6,578.6 580.2,597.0" fill="none" stroke="#d8d8d8" stroke-width="1" stroke-linejoin="round"/>
<polyline points="710.2,600.9 720.0,596.0 728.5,598.0 735.9,594.8 743.2,586.3 749.3,594.1 757.8,592.4" fill="none" stroke="#f4f4f4" stroke-width="1.1" stroke-linejoin="round"/>
<line x1="568.0" y1="552.9" x2="568.0" y2="603.5" stroke="#ffb400" stroke-width="3.3" stroke-linecap="butt"/>
<circle cx="568.0" cy="553.0" r="1.7" fill="#ffb400"/>
<line x1="575.0" y1="530.1" x2="575.0" y2="603.5" stroke="#ffb400" stroke-width="3.3" stroke-linecap="butt"/>
<circle cx="575.0" cy="530.2" r="1.7" fill="#ffb400"/>
<line x1="645.0" y1="533.0" x2="645.0" y2="603.5" stroke="#ffb400" stroke-width="3.3" stroke-linecap="butt"/>
<circle cx="645.0" cy="533.1" r="1.7" fill="#ffb400"/>
<line x1="659.0" y1="544.0" x2="659.0" y2="603.5" stroke="#ffb400" stroke-width="3.3" stroke-linecap="butt"/>
<circle cx="659.0" cy="544.1" r="1.7" fill="#ffb400"/>
<line x1="582.0" y1="521.6" x2="582.0" y2="603.5" stroke="#ffb400" stroke-width="3.3" stroke-linecap="butt"/>
<circle cx="582.0" cy="521.7" r="1.7" fill="#ffb400"/>
<line x1="589.0" y1="521.6" x2="589.0" y2="603.5" stroke="#ffb400" stroke-width="3.3" stroke-linecap="butt"/>
<circle cx="589.0" cy="521.7" r="1.7" fill="#ffb400"/>
<line x1="596.0" y1="521.6" x2="596.0" y2="603.5" stroke="#ffb400" stroke-width="3.3" stroke-linecap="butt"/>
<circle cx="596.0" cy="521.7" r="1.7" fill="#ffb400"/>
<line x1="603.0" y1="521.6" x2="603.0" y2="603.5" stroke="#ffb400" stroke-width="3.3" stroke-linecap="butt"/>
<circle cx="603.0" cy="521.7" r="1.7" fill="#ffb400"/>
<line x1="610.0" y1="521.6" x2="610.0" y2="603.5" stroke="#ffb400" stroke-width="3.3" stroke-linecap="butt"/>
<circle cx="610.0" cy="521.7" r="1.7" fill="#ffb400"/>
<line x1="617.0" y1="521.6" x2="617.0" y2="603.5" stroke="#ffb400" stroke-width="3.3" stroke-linecap="butt"/>
<circle cx="617.0" cy="521.7" r="1.7" fill="#ffb400"/>
<line x1="624.0" y1="521.6" x2="624.0" y2="603.5" stroke="#ffb400" stroke-width="3.3" stroke-linecap="butt"/>
<circle cx="624.0" cy="521.7" r="1.7" fill="#ffb400"/>
<line x1="631.0" y1="521.6" x2="631.0" y2="603.5" stroke="#ffb400" stroke-width="3.3" stroke-linecap="butt"/>
<circle cx="631.0" cy="521.7" r="1.7" fill="#ffb400"/>
<line x1="638.0" y1="521.6" x2="638.0" y2="603.5" stroke="#ffb400" stroke-width="3.3" stroke-linecap="butt"/>
<circle cx="638.0" cy="521.7" r="1.7" fill="#ffb400"/>
<line x1="652.0" y1="521.6" x2="652.0" y2="603.5" stroke="#ffb400" stroke-width="3.3" stroke-linecap="butt"/>
<circle cx="652.0" cy="521.7" r="1.7" fill="#ffb400"/>
<line x1="666.0" y1="521.6" x2="666.0" y2="603.5" stroke="#ffb400" stroke-width="3.3" stroke-linecap="butt"/>
<circle cx="666.0" cy="521.7" r="1.7" fill="#ffb400"/>
<line x1="673.0" y1="521.6" x2="673.0" y2="603.5" stroke="#ffb400" stroke-width="3.3" stroke-linecap="butt"/>
<circle cx="673.0" cy="521.7" r="1.7" fill="#ffb400"/>
<line x1="680.0" y1="521.6" x2="680.0" y2="603.5" stroke="#ffb400" stroke-width="3.3" stroke-linecap="butt"/>
<circle cx="680.0" cy="521.7" r="1.7" fill="#ffb400"/>
<line x1="687.0" y1="521.6" x2="687.0" y2="603.5" stroke="#ffb400" stroke-width="3.3" stroke-linecap="butt"/>
<circle cx="687.0" cy="521.7" r="1.7" fill="#ffb400"/>
<line x1="694.0" y1="521.6" x2="694.0" y2="603.5" stroke="#ffb400" stroke-width="3.3" stroke-linecap="butt"/>
<circle cx="694.0" cy="521.7" r="1.7" fill="#ffb400"/>
<line x1="701.0" y1="521.6" x2="701.0" y2="603.5" stroke="#ffb400" stroke-width="3.3" stroke-linecap="butt"/>
<circle cx="701.0" cy="521.7" r="1.7" fill="#ffb400"/>
<line x1="708.0" y1="521.6" x2="708.0" y2="603.5" stroke="#ffb400" stroke-width="3.3" stroke-linecap="butt"/>
<circle cx="708.0" cy="521.7" r="1.7" fill="#ffb400"/>
<line x1="715.0" y1="521.6" x2="715.0" y2="603.5" stroke="#ffb400" stroke-width="3.3" stroke-linecap="butt"/>
<circle cx="715.0" cy="521.7" r="1.7" fill="#ffb400"/>
<line x1="722.0" y1="521.6" x2="722.0" y2="603.5" stroke="#ffb400" stroke-width="3.3" stroke-linecap="butt"/>
<circle cx="722.0" cy="521.7" r="1.7" fill="#ffb400"/>
<line x1="729.0" y1="521.6" x2="729.0" y2="603.5" stroke="#ffb400" stroke-width="3.3" stroke-linecap="butt"/>
<circle cx="729.0" cy="521.7" r="1.7" fill="#ffb400"/>
<line x1="736.0" y1="521.6" x2="736.0" y2="603.5" stroke="#ffb400" stroke-width="3.3" stroke-linecap="butt"/>
<circle cx="736.0" cy="521.7" r="1.7" fill="#ffb400"/>
<line x1="743.0" y1="521.6" x2="743.0" y2="603.5" stroke="#ffb400" stroke-width="3.3" stroke-linecap="butt"/>
<circle cx="743.0" cy="521.7" r="1.7" fill="#ffb400"/>
<line x1="751.0" y1="521.6" x2="751.0" y2="603.5" stroke="#ffb400" stroke-width="3.3" stroke-linecap="butt"/>
<circle cx="751.0" cy="521.7" r="1.7" fill="#ffb400"/>
<line x1="758.0" y1="521.6" x2="758.0" y2="603.5" stroke="#ffb400" stroke-width="3.3" stroke-linecap="butt"/>
<circle cx="758.0" cy="521.7" r="1.7" fill="#ffb400"/>
</g>
<line x1="356.5" y1="525.5" x2="356.5" y2="603.5" stroke="#000" stroke-width="1" stroke-dasharray="2.2 1.8"/>
<line x1="377.5" y1="525.5" x2="377.5" y2="603.5" stroke="#000" stroke-width="1" stroke-dasharray="2.2 1.8"/>
<line x1="398.5" y1="525.5" x2="398.5" y2="603.5" stroke="#000" stroke-width="1" stroke-dasharray="2.2 1.8"/>
<line x1="419.5" y1="525.5" x2="419.5" y2="603.5" stroke="#000" stroke-width="1" stroke-dasharray="2.2 1.8"/>
<line x1="440.5" y1="525.5" x2="440.5" y2="603.5" stroke="#000" stroke-width="1" stroke-dasharray="2.2 1.8"/>
<line x1="462.5" y1="525.5" x2="462.5" y2="603.5" stroke="#000" stroke-width="1" stroke-dasharray="2.2 1.8"/>
<line x1="483.5" y1="525.5" x2="483.5" y2="603.5" stroke="#000" stroke-width="1" stroke-dasharray="2.2 1.8"/>
<line x1="504.5" y1="525.5" x2="504.5" y2="603.5" stroke="#000" stroke-width="1" stroke-dasharray="2.2 1.8"/>
<line x1="525.5" y1="525.5" x2="525.5" y2="603.5" stroke="#000" stroke-width="1" stroke-dasharray="2.2 1.8"/>
<line x1="546.5" y1="525.5" x2="546.5" y2="603.5" stroke="#000" stroke-width="1" stroke-dasharray="2.2 1.8"/>
<line x1="567.5" y1="525.5" x2="567.5" y2="603.5" stroke="#000" stroke-width="1" stroke-dasharray="2.2 1.8"/>
<line x1="588.5" y1="525.5" x2="588.5" y2="603.5" stroke="#000" stroke-width="1" stroke-dasharray="2.2 1.8"/>
<line x1="609.5" y1="525.5" x2="609.5" y2="603.5" stroke="#000" stroke-width="1" stroke-dasharray="2.2 1.8"/>
<line x1="630.5" y1="525.5" x2="630.5" y2="603.5" stroke="#000" stroke-width="1" stroke-dasharray="2.2 1.8"/>
<line x1="652.5" y1="525.5" x2="652.5" y2="603.5" stroke="#000" stroke-width="1" stroke-dasharray="2.2 1.8"/>
<line x1="673.5" y1="525.5" x2="673.5" y2="603.5" stroke="#000" stroke-width="1" stroke-dasharray="2.2 1.8"/>
<line x1="694.5" y1="525.5" x2="694.5" y2="603.5" stroke="#000" stroke-width="1" stroke-dasharray="2.2 1.8"/>
<line x1="715.5" y1="525.5" x2="715.5" y2="603.5" stroke="#000" stroke-width="1" stroke-dasharray="2.2 1.8"/>
<line x1="736.5" y1="525.5" x2="736.5" y2="603.5" stroke="#000" stroke-width="1" stroke-dasharray="2.2 1.8"/>
<line x1="342.5" y1="545.5" x2="757.5" y2="545.5" stroke="#000" stroke-width="1" stroke-dasharray="2.2 1.8"/>
<line x1="342.5" y1="564.5" x2="757.5" y2="564.5" stroke="#000" stroke-width="1" stroke-dasharray="2.2 1.8"/>
<line x1="342.5" y1="583.5" x2="757.5" y2="583.5" stroke="#000" stroke-width="1" stroke-dasharray="2.2 1.8"/>
<rect x="342.5" y="525.5" width="415.0" height="78.0" fill="none" stroke="#000" stroke-width="1"/>
<line x1="343.0" y1="525.5" x2="757.0" y2="525.5" stroke="#484848" stroke-width="1"/>
<text x="355.3" y="13.0" font-size="12" fill="#00008b" text-anchor="middle" textLength="146" lengthAdjust="spacingAndGlyphs">wschód słońca: 07:48 CET</text>
<text x="355.0" y="25.5" font-size="12" fill="#00008b" text-anchor="middle" textLength="142" lengthAdjust="spacingAndGlyphs">zachód słońca: 15:14 CET</text>
<text x="550.4" y="13.0" font-size="12" fill="#00008b" text-anchor="middle" textLength="121" lengthAdjust="spacingAndGlyphs">22°15'39"E, 53°46'5"N</text>
<text x="550.4" y="25.5" font-size="12" fill="#00008b" text-anchor="middle" textLength="83" lengthAdjust="spacingAndGlyphs" xml:space="preserve">(x=270,  y=361)</text>
<text x="738" y="13.0" font-size="12" fill="#00008b" text-anchor="middle" textLength="158" lengthAdjust="spacingAndGlyphs">wysokość (min, środek, max)</text>
<text x="738" y="25.5" font-size="12" fill="#00008b" text-anchor="middle" textLength="96" lengthAdjust="spacingAndGlyphs">133 - 172 - 180 m</text>
<text x="356.7" y="54.7" font-size="12.5" fill="#000" text-anchor="middle">22</text>
<text x="398.8" y="54.7" font-size="12.5" fill="#000" text-anchor="middle">04</text>
<text x="440.9" y="54.7" font-size="12.5" fill="#000" text-anchor="middle">10</text>
<text x="482.9" y="54.7" font-size="12.5" fill="#000" text-anchor="middle">16</text>
<text x="525.0" y="54.7" font-size="12.5" fill="#000" text-anchor="middle">22</text>
<text x="567.1" y="54.7" font-size="12.5" fill="#000" text-anchor="middle">04</text>
<text x="609.2" y="54.7" font-size="12.5" fill="#000" text-anchor="middle">10</text>
<text x="651.3" y="54.7" font-size="12.5" fill="#000" text-anchor="middle">16</text>
<text x="693.3" y="54.7" font-size="12.5" fill="#000" text-anchor="middle">22</text>
<text x="735.4" y="54.7" font-size="12.5" fill="#000" text-anchor="middle">04</text>
<text x="356.3" y="616.5" font-size="12.5" fill="#000" text-anchor="middle">21</text>
<text x="398.4" y="616.5" font-size="12.5" fill="#000" text-anchor="middle">03</text>
<text x="440.5" y="616.5" font-size="12.5" fill="#000" text-anchor="middle">09</text>
<text x="482.5" y="616.5" font-size="12.5" fill="#000" text-anchor="middle">15</text>
<text x="524.6" y="616.5" font-size="12.5" fill="#000" text-anchor="middle">21</text>
<text x="566.7" y="616.5" font-size="12.5" fill="#000" text-anchor="middle">03</text>
<text x="608.8" y="616.5" font-size="12.5" fill="#000" text-anchor="middle">09</text>
<text x="650.9" y="616.5" font-size="12.5" fill="#000" text-anchor="middle">15</text>
<text x="692.9" y="616.5" font-size="12.5" fill="#000" text-anchor="middle">21</text>
<text x="735.0" y="616.5" font-size="12.5" fill="#000" text-anchor="middle">03</text>
<text x="431.5" y="42.2" font-size="12.5" fill="#000" textLength="62.5" lengthAdjust="spacingAndGlyphs">czw, 25.12</text>
<text x="602.7" y="42.2" font-size="12.5" fill="#000" textLength="55" lengthAdjust="spacingAndGlyphs">pią, 26.12</text>
<text x="462" y="630" font-size="12.5" fill="#000" text-anchor="middle">25.12</text>
<text x="631" y="630" font-size="12.5" fill="#000" text-anchor="middle">26.12</text>
<text x="306.5" y="54.7" font-size="12.5" fill="#000" textLength="24.3" lengthAdjust="spacingAndGlyphs">CET</text>
<text x="769.2" y="54.7" font-size="12.5" fill="#000" textLength="24.8" lengthAdjust="spacingAndGlyphs">CET</text>
<text x="306.5" y="616.3" font-size="12.5" fill="#000" textLength="24" lengthAdjust="spacingAndGlyphs">UTC</text>
<text x="768.8" y="615.8" font-size="12.5" fill="#000" textLength="24.3" lengthAdjust="spacingAndGlyphs">UTC</text>
<text x="337.6" y="79.4" font-size="11" fill="#000" text-anchor="end">0</text>
<text x="767.42" y="79.4" font-size="11" fill="#000">0</text>
<text x="337.6" y="105.4" font-size="11" fill="#000" text-anchor="end">-5</text>
<text x="764.3599999999999" y="105.4" font-size="11" fill="#000">-5</text>
<text x="337.6" y="131.4" font-size="11" fill="#000" text-anchor="end">-10</text>
<text x="761.3" y="131.4" font-size="11" fill="#000">-10</text>
<text x="337.6" y="150.7" font-size="11" fill="#000" text-anchor="end">5</text>
<text x="337.6" y="165.8" font-size="11" fill="#000" text-anchor="end">4</text>
<text x="337.6" y="180.9" font-size="11" fill="#000" text-anchor="end">3</text>
<text x="337.6" y="196" font-size="11" fill="#000" text-anchor="end">2</text>
<text x="337.6" y="211" font-size="11" fill="#000" text-anchor="end">1</text>
<text x="337.6" y="225.9" font-size="11" fill="#000" text-anchor="end">0</text>
<text x="761.3" y="150.7" font-size="11" fill="#e64a14">100</text>
<text x="764.3599999999999" y="165.8" font-size="11" fill="#e64a14">90</text>
<text x="764.3599999999999" y="180.9" font-size="11" fill="#e64a14">80</text>
<text x="764.3599999999999" y="196" font-size="11" fill="#e64a14">70</text>
<text x="764.3599999999999" y="211" font-size="11" fill="#e64a14">60</text>
<text x="764.3599999999999" y="225.9" font-size="11" fill="#e64a14">50</text>
<text x="337.6" y="244.3" font-size="11" fill="#000" text-anchor="end">1040</text>
<text x="337.6" y="261.4" font-size="11" fill="#000" text-anchor="end">1035</text>
<text x="337.6" y="278.5" font-size="11" fill="#000" text-anchor="end">1030</text>
<text x="337.6" y="295.6" font-size="11" fill="#000" text-anchor="end">1025</text>
<text x="337.6" y="312.6" font-size="11" fill="#000" text-anchor="end">1020</text>
<text x="761.3" y="244.6" font-size="11" fill="#000">780</text>
<text x="761.3" y="261.5" font-size="11" fill="#000">776</text>
<text x="761.3" y="278.7" font-size="11" fill="#000">772</text>
<text x="761.3" y="295.5" font-size="11" fill="#000">769</text>
<text x="761.3" y="312.6" font-size="11" fill="#000">765</text>
<text x="337.6" y="322.8" font-size="11" fill="#000" text-anchor="end">15</text>
<text x="337.6" y="347.9" font-size="11" fill="#000" text-anchor="end">10</text>
<text x="337.6" y="373.2" font-size="11" fill="#000" text-anchor="end">5</text>
<text x="337.6" y="398.4" font-size="11" fill="#000" text-anchor="end">0</text>
<text x="761.3" y="322.8" font-size="11" fill="#000">54</text>
<text x="761.3" y="348.2" font-size="11" fill="#000">36</text>
<text x="761.3" y="373.7" font-size="11" fill="#000">18</text>
<text x="764.3599999999999" y="398.6" font-size="11" fill="#000">0</text>
<text x="337.6" y="441.3" font-size="11" fill="#000" text-anchor="end">15.0</text>
<text x="337.6" y="461.2" font-size="11" fill="#000" text-anchor="end">7.0</text>
<text x="337.6" y="480.6" font-size="11" fill="#000" text-anchor="end">2.0</text>
<text x="337.6" y="500.5" font-size="11" fill="#000" text-anchor="end">0.5</text>
<text x="337.6" y="519.2" font-size="11" fill="#000" text-anchor="end">0.0</text>
<text x="761.3" y="441.6" font-size="11" fill="#ff8000">100</text>
<text x="761.3" y="461.3" font-size="11" fill="#ff8000">20</text>
<text x="761.3" y="480.6" font-size="11" fill="#ff8000">5</text>
<text x="761.3" y="500.5" font-size="11" fill="#ff8000">1</text>
<text x="761.3" y="518.8" font-size="11" fill="#ff8000">0</text>
<text x="337.6" y="529.7" font-size="11" fill="#000" text-anchor="end">8</text>
<text x="337.6" y="549.2" font-size="11" fill="#000" text-anchor="end">6</text>
<text x="337.6" y="568.4" font-size="11" fill="#000" text-anchor="end">4</text>
<text x="337.6" y="587.8" font-size="11" fill="#000" text-anchor="end">2</text>
<text x="337.6" y="607.5" font-size="11" fill="#000" text-anchor="end">0</text>
<text x="761.3" y="529.2" font-size="11" fill="#ff8000">1</text>
<text x="761.3" y="548.6" font-size="11" fill="#ff8000">0.75</text>
<text x="761.3" y="568" font-size="11" fill="#ff8000">0.5</text>
<text x="761.3" y="587.6" font-size="11" fill="#ff8000">0.25</text>
<text x="761.3" y="606.4" font-size="11" fill="#ff8000">0</text>
<text transform="translate(293.5,96.5) rotate(-90)" font-size="12" fill="#00008b" text-anchor="middle" textLength="66" lengthAdjust="spacingAndGlyphs">temperatura</text>
<text transform="translate(305.3,97.0) rotate(-90)" font-size="12" fill="#00008b" text-anchor="middle" textLength="20.8" lengthAdjust="spacingAndGlyphs">(°C)</text>
<text transform="translate(293.0,185.1) rotate(-90)" font-size="12" fill="#00008b" text-anchor="middle" textLength="27.3" lengthAdjust="spacingAndGlyphs">opad</text>
<text transform="translate(306.0,185.4) rotate(-90)" font-size="12" fill="#00008b" text-anchor="middle" textLength="85.5" lengthAdjust="spacingAndGlyphs">(mm/h, kg/m²/h)</text>
<text transform="translate(293.5,272.5) rotate(-90)" font-size="12" fill="#00008b" text-anchor="middle" textLength="49.5" lengthAdjust="spacingAndGlyphs">ciśnienie</text>
<text transform="translate(305.3,273.5) rotate(-90)" font-size="12" fill="#00008b" text-anchor="middle" textLength="27.3" lengthAdjust="spacingAndGlyphs">(hPa)</text>
<text transform="translate(293.5,361.2) rotate(-90)" font-size="12" fill="#00008b" text-anchor="middle" textLength="26" lengthAdjust="spacingAndGlyphs">wiatr</text>
<text transform="translate(305.3,361.0) rotate(-90)" font-size="12" fill="#00008b" text-anchor="middle" textLength="28.3" lengthAdjust="spacingAndGlyphs">(m/s)</text>
<text transform="translate(292.7,476.4) rotate(-90)" font-size="12" fill="#00008b" text-anchor="middle" textLength="99.3" lengthAdjust="spacingAndGlyphs">pion. rozciągł. chm.</text>
<text transform="translate(305.5,474.3) rotate(-90)" font-size="12" fill="#00008b" text-anchor="middle" textLength="24.8" lengthAdjust="spacingAndGlyphs">(km)</text>
<text transform="translate(293.5,572.5) rotate(-90)" font-size="12" fill="#00008b" text-anchor="middle" textLength="75.5" lengthAdjust="spacingAndGlyphs">zachmurzenie</text>
<text transform="translate(305.3,562.9) rotate(-90)" font-size="12" fill="#00008b" text-anchor="middle" textLength="44.7" lengthAdjust="spacingAndGlyphs">(oktanty)</text>
<text transform="translate(801.6,97.1) rotate(-90)" font-size="12" fill="#00008b" text-anchor="middle" textLength="20.8" lengthAdjust="spacingAndGlyphs">(°C)</text>
<text transform="translate(816.0,96.4) rotate(-90)" font-size="12" fill="#00008b" text-anchor="middle" textLength="66" lengthAdjust="spacingAndGlyphs">temperatura</text>
<text transform="translate(800.8000000000001,185.1) rotate(-90)" font-size="12" fill="#00008b" text-anchor="middle" textLength="19.6" lengthAdjust="spacingAndGlyphs">(%)</text>
<text transform="translate(816.0,185.1) rotate(-90)" font-size="12" fill="#00008b" text-anchor="middle" textLength="88.8" lengthAdjust="spacingAndGlyphs">wilgotność wzgl.</text>
<text transform="translate(800.8000000000001,273.1) rotate(-90)" font-size="12" fill="#00008b" text-anchor="middle" textLength="47.8" lengthAdjust="spacingAndGlyphs">(mm Hg)</text>
<text transform="translate(816.0,272.4) rotate(-90)" font-size="12" fill="#00008b" text-anchor="middle" textLength="49.5" lengthAdjust="spacingAndGlyphs">ciśnienie</text>
<text transform="translate(801.6,361.0) rotate(-90)" font-size="12" fill="#00008b" text-anchor="middle" textLength="33.4" lengthAdjust="spacingAndGlyphs">(km/h)</text>
<text transform="translate(816.0,360.4) rotate(-90)" font-size="12" fill="#00008b" text-anchor="middle" textLength="26" lengthAdjust="spacingAndGlyphs">wiatr</text>
<text transform="translate(801.6,474.2) rotate(-90)" font-size="12" fill="#00008b" text-anchor="middle" textLength="24.8" lengthAdjust="spacingAndGlyphs">(km)</text>
<text transform="translate(816.0,474.6) rotate(-90)" font-size="12" fill="#00008b" text-anchor="middle" textLength="63.7" lengthAdjust="spacingAndGlyphs">widzialność</text>
<text transform="translate(801.6,562.7) rotate(-90)" font-size="12" fill="#00008b" text-anchor="middle" textLength="42.7" lengthAdjust="spacingAndGlyphs">(frakcja)</text>
<text transform="translate(816.6,563.0) rotate(-90)" font-size="12" fill="#00008b" text-anchor="middle" textLength="27.6" lengthAdjust="spacingAndGlyphs">mgła</text>
<text x="295.0" y="411.4" font-size="11" fill="#00008b">N</text>
<text x="283.8" y="419.5" font-size="11" fill="#00008b">W</text>
<text x="301.0" y="419.6" font-size="11" fill="#00008b">E</text>
<text x="294.0" y="427.9" font-size="11" fill="#00008b">S</text>
<text x="804.3" y="411.4" font-size="11" fill="#00008b">N</text>
<text x="793.1" y="419.5" font-size="11" fill="#00008b">W</text>
<text x="810.3" y="419.6" font-size="11" fill="#00008b">E</text>
<text x="803.3" y="427.9" font-size="11" fill="#00008b">S</text>
<text x="300.5" y="652" font-size="13" fill="#00008b" textLength="108" lengthAdjust="spacingAndGlyphs">meteo@icm.edu.pl</text>
<text x="553.8" y="652" font-size="13" fill="#00008b" textLength="252" lengthAdjust="spacingAndGlyphs">© 2007-2025 ICM, Uniwersytet Warszawski</text>
<rect x="170.3" y="30.0" width="61.3" height="599.0" fill="#ecf3ff"/>
<defs><clipPath id="lnight"><rect x="170.3" y="0" width="61.29999999999998" height="660"/></clipPath>
<clipPath id="l1"><rect x="135.5" y="57.5" width="110.0" height="77.0"/></clipPath>
<clipPath id="l2"><rect x="135.5" y="143.5" width="110.0" height="77.0"/></clipPath>
<clipPath id="l3"><rect x="135.5" y="229.5" width="110.0" height="77.0"/></clipPath>
<clipPath id="l4"><rect x="135.5" y="315.5" width="110.0" height="77.0"/></clipPath>
<clipPath id="l5"><rect x="135.5" y="398.5" width="110.0" height="32.0"/></clipPath>
<clipPath id="l6"><rect x="135.5" y="436.5" width="110.0" height="78.0"/></clipPath>
<clipPath id="l7"><rect x="135.5" y="523.5" width="110.0" height="78.0"/></clipPath>
</defs>
<g clip-path="url(#l1)">
<polygon points="135.4,87.5 142.7,89.3 149.7,91.7 156.8,93.9 163.8,96.6 170.7,99.4 177.9,102.1 184.8,104.5 191.8,106.3 198.9,107.1 205.8,108.2 212.8,108.9 219.8,108.9 226.5,109.4 233.7,110.0 240.6,106.7 245.7,104.9 245.7,115.8 240.6,122.3 233.7,126.8 226.5,126.1 219.8,125.4 212.8,125.0 205.8,124.6 198.9,123.5 191.8,122.8 184.8,118.6 177.9,114.9 170.7,112.2 163.8,108.9 156.8,105.8 149.7,103.0 142.7,100.9 135.4,100.3" fill="#ffe6dc"/>
<g clip-path="url(#lnight)">
<polygon points="135.4,87.5 142.7,89.3 149.7,91.7 156.8,93.9 163.8,96.6 170.7,99.4 177.9,102.1 184.8,104.5 191.8,106.3 198.9,107.1 205.8,108.2 212.8,108.9 219.8,108.9 226.5,109.4 233.7,110.0 240.6,106.7 245.7,104.9 245.7,115.8 240.6,122.3 233.7,126.8 226.5,126.1 219.8,125.4 212.8,125.0 205.8,124.6 198.9,123.5 191.8,122.8 184.8,118.6 177.9,114.9 170.7,112.2 163.8,108.9 156.8,105.8 149.7,103.0 142.7,100.9 135.4,100.3" fill="#eadadc"/>
</g>
</g>
<g clip-path="url(#l1)">
<polygon points="135.5,111.3 245.5,111.3 245.5,134.5 135.5,134.5" fill="#87d0ff"/>
<g clip-path="url(#lnight)">
<polygon points="135.5,111.3 245.5,111.3 245.5,134.5 135.5,134.5" fill="#7cc5ff"/>
</g>
</g>
<g clip-path="url(#l1)">
<polygon points="135.4,111.3 142.7,111.3 149.7,111.3 156.8,111.3 163.8,111.3 170.7,111.3 177.9,111.3 184.8,111.3 191.8,111.3 198.9,111.3 205.8,111.3 212.8,111.3 219.8,111.3 226.5,111.3 233.7,111.3 240.6,111.3 245.7,111.3 245.7,115.8 240.6,122.3 233.7,126.8 226.5,126.1 219.8,125.4 212.8,125.0 205.8,124.6 198.9,123.5 191.8,122.8 184.8,118.6 177.9,114.9 170.7,112.2 163.8,108.9 156.8,105.8 149.7,103.0 142.7,100.9 135.4,100.3" fill="#ffe6dc"/>
<g clip-path="url(#lnight)">
<polygon points="135.4,111.3 142.7,111.3 149.7,111.3 156.8,111.3 163.8,111.3 170.7,111.3 177.9,111.3 184.8,111.3 191.8,111.3 198.9,111.3 205.8,111.3 212.8,111.3 219.8,111.3 226.5,111.3 233.7,111.3 240.6,111.3 245.7,111.3 245.7,115.8 240.6,122.3 233.7,126.8 226.5,126.1 219.8,125.4 212.8,125.0 205.8,124.6 198.9,123.5 191.8,122.8 184.8,118.6 177.9,114.9 170.7,112.2 163.8,108.9 156.8,105.8 149.7,103.0 142.7,100.9 135.4,100.3" fill="#eadadc"/>
</g>
</g>
<g clip-path="url(#l1)">
<polygon points="135.4,102.7 142.7,103.4 149.7,105.8 156.8,108.2 163.8,110.0 170.7,111.8 177.9,113.1 184.8,114.0 191.8,115.8 198.9,117.3 205.8,118.0 212.8,118.6 219.8,115.8 226.5,119.1 233.7,122.3 240.6,116.8 245.7,115.8 245.7,121.3 240.6,126.8 233.7,134.1 226.5,134.1 219.8,134.1 212.8,134.1 205.8,131.4 198.9,128.3 191.8,125.4 184.8,123.2 177.9,121.0 170.7,118.0 163.8,115.5 156.8,113.1 149.7,110.7 142.7,108.9 135.4,108.5" fill="#bfe6ff"/>
<g clip-path="url(#lnight)">
<polygon points="135.4,102.7 142.7,103.4 149.7,105.8 156.8,108.2 163.8,110.0 170.7,111.8 177.9,113.1 184.8,114.0 191.8,115.8 198.9,117.3 205.8,118.0 212.8,118.6 219.8,115.8 226.5,119.1 233.7,122.3 240.6,116.8 245.7,115.8 245.7,121.3 240.6,126.8 233.7,134.1 226.5,134.1 219.8,134.1 212.8,134.1 205.8,131.4 198.9,128.3 191.8,125.4 184.8,123.2 177.9,121.0 170.7,118.0 163.8,115.5 156.8,113.1 149.7,110.7 142.7,108.9 135.4,108.5" fill="#afdaff"/>
</g>
</g>
<line x1="142.5" y1="57.5" x2="142.5" y2="134.5" stroke="#000" stroke-width="1" stroke-dasharray="2.2 1.8"/>
<line x1="163.5" y1="57.5" x2="163.5" y2="134.5" stroke="#000" stroke-width="1" stroke-dasharray="2.2 1.8"/>
<line x1="184.5" y1="57.5" x2="184.5" y2="134.5" stroke="#000" stroke-width="1" stroke-dasharray="2.2 1.8"/>
<line x1="205.5" y1="57.5" x2="205.5" y2="134.5" stroke="#000" stroke-width="1" stroke-dasharray="2.2 1.8"/>
<line x1="226.5" y1="57.5" x2="226.5" y2="134.5" stroke="#000" stroke-width="1" stroke-dasharray="2.2 1.8"/>
<line x1="135.5" y1="59.5" x2="245.5" y2="59.5" stroke="#000" stroke-width="1" stroke-dasharray="2.2 1.8"/>
<line x1="135.5" y1="77.5" x2="245.5" y2="77.5" stroke="#000" stroke-width="1" stroke-dasharray="2.2 1.8"/>
<line x1="135.5" y1="94.5" x2="245.5" y2="94.5" stroke="#000" stroke-width="1" stroke-dasharray="2.2 1.8"/>
<line x1="135.5" y1="111.5" x2="245.5" y2="111.5" stroke="#000" stroke-width="1" stroke-dasharray="2.2 1.8"/>
<line x1="135.5" y1="129.5" x2="245.5" y2="129.5" stroke="#000" stroke-width="1" stroke-dasharray="2.2 1.8"/>
<g clip-path="url(#l1)">
<line x1="142.5" y1="71" x2="142.5" y2="82.9" stroke="#b22222" stroke-width="1.1"/>
<line x1="149.5" y1="77.4" x2="149.5" y2="95.7" stroke="#b22222" stroke-width="1.1"/>
<line x1="156.5" y1="87.5" x2="156.5" y2="101.2" stroke="#b22222" stroke-width="1.1"/>
<line x1="163.5" y1="96.6" x2="163.5" y2="108.5" stroke="#b22222" stroke-width="1.1"/>
<line x1="170.5" y1="101.2" x2="170.5" y2="114" stroke="#b22222" stroke-width="1.1"/>
<line x1="177.5" y1="103" x2="177.5" y2="118.6" stroke="#b22222" stroke-width="1.1"/>
<line x1="184.5" y1="105.8" x2="184.5" y2="121.3" stroke="#b22222" stroke-width="1.1"/>
<line x1="191.5" y1="107" x2="191.5" y2="123.2" stroke="#b22222" stroke-width="1.1"/>
<line x1="198.5" y1="107.6" x2="198.5" y2="125" stroke="#b22222" stroke-width="1.1"/>
<line x1="205.5" y1="108.5" x2="205.5" y2="127.7" stroke="#b22222" stroke-width="1.1"/>
<line x1="212.5" y1="108.9" x2="212.5" y2="129.6" stroke="#b22222" stroke-width="1.1"/>
<line x1="219.5" y1="109.4" x2="219.5" y2="130.5" stroke="#b22222" stroke-width="1.1"/>
<line x1="226.5" y1="110.4" x2="226.5" y2="131.4" stroke="#b22222" stroke-width="1.1"/>
<line x1="233.5" y1="111.3" x2="233.5" y2="132.3" stroke="#b22222" stroke-width="1.1"/>
<line x1="240.5" y1="105.8" x2="240.5" y2="120.4" stroke="#b22222" stroke-width="1.1"/>
<rect x="137.7" y="112.8" width="2.8" height="2.8" fill="#6a5acd"/>
<rect x="144.7" y="112.8" width="2.8" height="2.8" fill="#6a5acd"/>
<rect x="151.7" y="112.8" width="2.8" height="2.8" fill="#6a5acd"/>
<rect x="158.7" y="112.8" width="2.8" height="2.8" fill="#6a5acd"/>
<rect x="165.7" y="112.8" width="2.8" height="2.8" fill="#6a5acd"/>
<rect x="218.5" y="118.5" width="2.2" height="2.2" fill="#6a5acd"/>
<rect x="225.5" y="119.5" width="2.2" height="2.2" fill="#6a5acd"/>
<polyline points="135.4,102.7 142.7,103.4 149.7,105.8 156.8,108.2 163.8,110.0 170.7,111.8 177.9,113.1 184.8,114.0 191.8,115.8 198.9,117.3 205.8,118.0 212.8,118.6 219.8,115.8 226.5,119.1 233.7,122.3 240.6,116.8 245.7,115.8" fill="none" stroke="#0000ff" stroke-width="2.2" stroke-linejoin="round"/>
<polyline points="135.4,99.0 142.7,99.4 149.7,101.6 156.8,104.5 163.8,107.6 170.7,110.4 177.9,111.8 184.8,112.7 191.8,113.5 198.9,113.7 205.8,114.0 212.8,114.6 219.8,114.9 226.5,116.2 233.7,119.1 240.6,114.4 245.7,111.8" fill="none" stroke="#ff0000" stroke-width="2.4" stroke-linejoin="round"/>
</g>
<rect x="135.5" y="57.5" width="110.0" height="77.0" fill="none" stroke="#000" stroke-width="1"/>
<line x1="142.5" y1="143.5" x2="142.5" y2="220.5" stroke="#000" stroke-width="1" stroke-dasharray="2.2 1.8"/>
<line x1="163.5" y1="143.5" x2="163.5" y2="220.5" stroke="#000" stroke-width="1" stroke-dasharray="2.2 1.8"/>
<line x1="184.5" y1="143.5" x2="184.5" y2="220.5" stroke="#000" stroke-width="1" stroke-dasharray="2.2 1.8"/>
<line x1="205.5" y1="143.5" x2="205.5" y2="220.5" stroke="#000" stroke-width="1" stroke-dasharray="2.2 1.8"/>
<line x1="226.5" y1="143.5" x2="226.5" y2="220.5" stroke="#000" stroke-width="1" stroke-dasharray="2.2 1.8"/>
<line x1="135.5" y1="150.5" x2="245.5" y2="150.5" stroke="#000" stroke-width="1" stroke-dasharray="2.2 1.8"/>
<line x1="135.5" y1="167.5" x2="245.5" y2="167.5" stroke="#000" stroke-width="1" stroke-dasharray="2.2 1.8"/>
<line x1="135.5" y1="185.5" x2="245.5" y2="185.5" stroke="#000" stroke-width="1" stroke-dasharray="2.2 1.8"/>
<line x1="135.5" y1="203.5" x2="245.5" y2="203.5" stroke="#000" stroke-width="1" stroke-dasharray="2.2 1.8"/>
<rect x="135.5" y="187.2" width="7.1" height="33.3" fill="#00a000"/>
<rect x="142.5" y="181.1" width="7.1" height="39.4" fill="#00a000"/>
<rect x="149.5" y="178.9" width="7.1" height="41.6" fill="#00a000"/>
<rect x="156.5" y="200.8" width="7.1" height="19.7" fill="#00a000"/>
<rect x="163.5" y="207.4" width="7.1" height="13.1" fill="#00a000"/>
<rect x="170.5" y="218.0" width="7.1" height="2.5" fill="#00a000"/>
<rect x="156.5" y="182.2" width="7.1" height="18.6" fill="#1030d0"/>
<rect x="163.5" y="205.2" width="7.1" height="2.2" fill="#1030d0"/>
<line x1="139.5" y1="164.6" x2="139.5" y2="187.2" stroke="#00a000" stroke-width="1"/>
<line x1="146.5" y1="148.2" x2="146.5" y2="181.1" stroke="#00a000" stroke-width="1"/>
<line x1="153.8" y1="148.2" x2="153.8" y2="178.9" stroke="#00a000" stroke-width="1"/>
<line x1="160.4" y1="172.3" x2="160.4" y2="182.2" stroke="#1030d0" stroke-width="1"/>
<rect x="145.0" y="146.0" width="3.0" height="3.0" fill="#ff0000"/>
<rect x="152.0" y="146.0" width="3.0" height="3.0" fill="#ff0000"/>
<rect x="138.0" y="219.0" width="3.0" height="1.0" fill="#ff0000"/>
<rect x="146.0" y="219.0" width="3.0" height="1.0" fill="#ff0000"/>
<rect x="153.0" y="219.0" width="3.0" height="1.0" fill="#ff0000"/>
<rect x="160.0" y="219.0" width="3.0" height="1.0" fill="#ff0000"/>
<g clip-path="url(#l2)">
<polyline points="139.1,170.1 142.8,167.9 146.5,162.4 153.8,155.9 163.7,152.6 184.5,152.1 194.4,148.6 198.8,149.3 207.6,155.9 214.1,155.9 225.1,149.9 233.9,152.1 240.5,158.0 246.0,164.6" fill="none" stroke="#e64a14" stroke-width="1.8" stroke-linejoin="round"/>
</g>
<circle cx="139.5" cy="173.4" r="2.3" fill="#ffe000" stroke="#000" stroke-width="1"/>
<circle cx="146.5" cy="173.4" r="2.3" fill="#ffa000" stroke="#000" stroke-width="1"/>
<circle cx="153.8" cy="173.4" r="2.3" fill="#e00000" stroke="#000" stroke-width="1"/>
<rect x="135.5" y="143.5" width="110.0" height="77.0" fill="none" stroke="#000" stroke-width="1"/>
<polygon points="135.6,261.5 142.8,260.4 150.0,253.8 157.1,249.4 164.1,248.8 170.7,244.6 176.8,247.9 184.5,250.1 192.2,253.8 225.1,254.3 233.9,258.2 246.0,264.8 245.5,306.5 135.5,306.5" fill="#ffff00"/>
<clipPath id="lpf"><polygon points="135.6,261.5 142.8,260.4 150.0,253.8 157.1,249.4 164.1,248.8 170.7,244.6 176.8,247.9 184.5,250.1 192.2,253.8 225.1,254.3 233.9,258.2 246.0,264.8 245.5,306.5 135.5,306.5"/></clipPath>
<g clip-path="url(#lpf)">
<rect x="164.1" y="229.5" width="5.7" height="77.0" fill="#ffd800"/>
</g>
<line x1="142.5" y1="229.5" x2="142.5" y2="306.5" stroke="#000" stroke-width="1" stroke-dasharray="2.2 1.8"/>
<line x1="163.5" y1="229.5" x2="163.5" y2="306.5" stroke="#000" stroke-width="1" stroke-dasharray="2.2 1.8"/>
<line x1="184.5" y1="229.5" x2="184.5" y2="306.5" stroke="#000" stroke-width="1" stroke-dasharray="2.2 1.8"/>
<line x1="205.5" y1="229.5" x2="205.5" y2="306.5" stroke="#000" stroke-width="1" stroke-dasharray="2.2 1.8"/>
<line x1="226.5" y1="229.5" x2="226.5" y2="306.5" stroke="#000" stroke-width="1" stroke-dasharray="2.2 1.8"/>
<line x1="135.5" y1="231.5" x2="245.5" y2="231.5" stroke="#000" stroke-width="1" stroke-dasharray="2.2 1.8"/>
<line x1="135.5" y1="254.5" x2="245.5" y2="254.5" stroke="#000" stroke-width="1" stroke-dasharray="2.2 1.8"/>
<line x1="135.5" y1="278.5" x2="245.5" y2="278.5" stroke="#000" stroke-width="1" stroke-dasharray="2.2 1.8"/>
<line x1="135.5" y1="301.5" x2="245.5" y2="301.5" stroke="#000" stroke-width="1" stroke-dasharray="2.2 1.8"/>
<g clip-path="url(#l3)">
<polyline points="135.6,261.5 142.8,260.4 150.0,253.8 157.1,249.4 164.1,248.8 170.7,244.6 176.8,247.9 184.5,250.1 192.2,253.8 225.1,254.3 233.9,258.2 246.0,264.8" fill="none" stroke="#000" stroke-width="2.0" stroke-linejoin="round"/>
</g>
<rect x="135.5" y="229.5" width="110.0" height="77.0" fill="none" stroke="#000" stroke-width="1"/>
<clipPath id="lwf"><polygon points="135.6,364.3 139.1,367.6 142.8,368.7 150.0,370.8 157.1,371.9 164.1,373.0 170.7,374.8 177.9,375.7 184.5,375.7 191.1,374.1 197.7,372.6 205.4,373.0 211.9,373.0 225.1,373.0 231.7,371.5 239.4,370.4 246.0,369.7 245.5,392.5 135.5,392.5"/></clipPath>
<g clip-path="url(#lwf)">
<rect x="135.5" y="315.5" width="12.9" height="77.0" fill="#14d000"/>
<rect x="148.1" y="315.5" width="21.3" height="77.0" fill="#008800"/>
<rect x="169.1" y="315.5" width="27.8" height="77.0" fill="#004a8c"/>
<rect x="196.6" y="315.5" width="14.6" height="77.0" fill="#008800"/>
<rect x="210.9" y="315.5" width="14.5" height="77.0" fill="#004a8c"/>
<rect x="225.1" y="315.5" width="13.9" height="77.0" fill="#008800"/>
<rect x="238.7" y="315.5" width="7.8" height="77.0" fill="#14d000"/>
</g>
<line x1="142.5" y1="315.5" x2="142.5" y2="392.5" stroke="#000" stroke-width="1" stroke-dasharray="2.2 1.8"/>
<line x1="163.5" y1="315.5" x2="163.5" y2="392.5" stroke="#000" stroke-width="1" stroke-dasharray="2.2 1.8"/>
<line x1="184.5" y1="315.5" x2="184.5" y2="392.5" stroke="#000" stroke-width="1" stroke-dasharray="2.2 1.8"/>
<line x1="205.5" y1="315.5" x2="205.5" y2="392.5" stroke="#000" stroke-width="1" stroke-dasharray="2.2 1.8"/>
<line x1="226.5" y1="315.5" x2="226.5" y2="392.5" stroke="#000" stroke-width="1" stroke-dasharray="2.2 1.8"/>
<line x1="135.5" y1="334.5" x2="245.5" y2="334.5" stroke="#000" stroke-width="1" stroke-dasharray="2.2 1.8"/>
<line x1="135.5" y1="353.5" x2="245.5" y2="353.5" stroke="#000" stroke-width="1" stroke-dasharray="2.2 1.8"/>
<line x1="135.5" y1="373.5" x2="245.5" y2="373.5" stroke="#000" stroke-width="1" stroke-dasharray="2.2 1.8"/>
<g clip-path="url(#l4)">
<polyline points="135.6,364.3 139.1,367.6 142.8,368.7 150.0,370.8 157.1,371.9 164.1,373.0 170.7,374.8 177.9,375.7 184.5,375.7 191.1,374.1 197.7,372.6 205.4,373.0 211.9,373.0 225.1,373.0 231.7,371.5 239.4,370.4 246.0,369.7" fill="none" stroke="#00009c" stroke-width="2.2" stroke-linejoin="round"/>
<line x1="142.8" y1="340.5" x2="149.4" y2="340.5" stroke="#ff0000" stroke-width="1"/>
<line x1="148.7" y1="346.5" x2="156.6" y2="346.5" stroke="#ff0000" stroke-width="1"/>
<line x1="156.0" y1="347.5" x2="162.6" y2="347.5" stroke="#ff0000" stroke-width="1"/>
<line x1="162.6" y1="351.5" x2="169.8" y2="351.5" stroke="#ff0000" stroke-width="1"/>
<line x1="169.8" y1="355.5" x2="176.8" y2="355.5" stroke="#ff0000" stroke-width="1"/>
<line x1="176.8" y1="358.5" x2="184.5" y2="358.5" stroke="#ff0000" stroke-width="1"/>
<line x1="184.5" y1="354.5" x2="191.1" y2="354.5" stroke="#ff0000" stroke-width="1"/>
<line x1="191.1" y1="351.5" x2="197.7" y2="351.5" stroke="#ff0000" stroke-width="1"/>
<line x1="197.7" y1="350.5" x2="211.9" y2="350.5" stroke="#ff0000" stroke-width="1"/>
<line x1="211.9" y1="351.5" x2="225.1" y2="351.5" stroke="#ff0000" stroke-width="1"/>
<line x1="225.1" y1="347.5" x2="232.8" y2="347.5" stroke="#ff0000" stroke-width="1"/>
<line x1="232.8" y1="343.5" x2="239.4" y2="343.5" stroke="#ff0000" stroke-width="1"/>
<line x1="239.4" y1="342.5" x2="246.0" y2="342.5" stroke="#ff0000" stroke-width="1"/>
</g>
<rect x="137.0" y="316.0" width="3.0" height="2.5" fill="#ff0000"/>
<rect x="135.5" y="315.5" width="110.0" height="77.0" fill="none" stroke="#000" stroke-width="1"/>
<line x1="142.5" y1="398.5" x2="142.5" y2="430.5" stroke="#000" stroke-width="1" stroke-dasharray="2.2 1.8"/>
<line x1="163.5" y1="398.5" x2="163.5" y2="430.5" stroke="#000" stroke-width="1" stroke-dasharray="2.2 1.8"/>
<line x1="184.5" y1="398.5" x2="184.5" y2="430.5" stroke="#000" stroke-width="1" stroke-dasharray="2.2 1.8"/>
<line x1="205.5" y1="398.5" x2="205.5" y2="430.5" stroke="#000" stroke-width="1" stroke-dasharray="2.2 1.8"/>
<line x1="226.5" y1="398.5" x2="226.5" y2="430.5" stroke="#000" stroke-width="1" stroke-dasharray="2.2 1.8"/>
<rect x="135.5" y="398.5" width="110.0" height="32.0" fill="none" stroke="#000" stroke-width="1"/>
<clipPath id="l5a"><rect x="135.5" y="398" width="118.0" height="33"/></clipPath><g clip-path="url(#l5a)">
<line x1="132.0" y1="406.2" x2="137.0" y2="417.2" stroke="#00009c" stroke-width="1.3"/>
<polygon points="139.2,422.2 134.5,418.3 139.4,416.0" fill="#00009c"/>
<line x1="138.8" y1="406.2" x2="143.8" y2="417.2" stroke="#00009c" stroke-width="1.3"/>
<polygon points="146.1,422.2 141.4,418.3 146.3,416.0" fill="#00009c"/>
<line x1="145.7" y1="406.2" x2="150.7" y2="417.2" stroke="#00009c" stroke-width="1.3"/>
<polygon points="153.0,422.2 148.2,418.3 153.1,416.0" fill="#00009c"/>
<line x1="152.5" y1="406.2" x2="157.5" y2="417.2" stroke="#00009c" stroke-width="1.3"/>
<polygon points="159.8,422.2 155.1,418.3 160.0,416.0" fill="#00009c"/>
<line x1="159.4" y1="406.2" x2="164.4" y2="417.2" stroke="#00009c" stroke-width="1.3"/>
<polygon points="166.7,422.2 161.9,418.3 166.8,416.0" fill="#00009c"/>
<line x1="166.3" y1="406.2" x2="171.3" y2="417.2" stroke="#00009c" stroke-width="1.3"/>
<polygon points="173.5,422.2 168.8,418.3 173.7,416.0" fill="#00009c"/>
<line x1="173.1" y1="406.2" x2="178.1" y2="417.2" stroke="#00009c" stroke-width="1.3"/>
<polygon points="180.4,422.2 175.7,418.3 180.6,416.0" fill="#00009c"/>
<line x1="180.0" y1="406.2" x2="185.0" y2="417.2" stroke="#00009c" stroke-width="1.3"/>
<polygon points="187.3,422.2 182.5,418.3 187.4,416.0" fill="#00009c"/>
<line x1="186.8" y1="406.2" x2="191.8" y2="417.2" stroke="#00009c" stroke-width="1.3"/>
<polygon points="194.1,422.2 189.4,418.3 194.3,416.0" fill="#00009c"/>
<line x1="193.7" y1="406.2" x2="198.7" y2="417.2" stroke="#00009c" stroke-width="1.3"/>
<polygon points="201.0,422.2 196.2,418.3 201.1,416.0" fill="#00009c"/>
<line x1="200.6" y1="406.2" x2="205.6" y2="417.2" stroke="#00009c" stroke-width="1.3"/>
<polygon points="207.8,422.2 203.1,418.3 208.0,416.0" fill="#00009c"/>
<line x1="207.4" y1="406.2" x2="212.4" y2="417.2" stroke="#00009c" stroke-width="1.3"/>
<polygon points="214.7,422.2 210.0,418.3 214.9,416.0" fill="#00009c"/>
<line x1="214.3" y1="406.2" x2="219.3" y2="417.2" stroke="#00009c" stroke-width="1.3"/>
<polygon points="221.6,422.2 216.8,418.3 221.7,416.0" fill="#00009c"/>
<line x1="221.1" y1="406.2" x2="226.1" y2="417.2" stroke="#00009c" stroke-width="1.3"/>
<polygon points="228.4,422.2 223.7,418.3 228.6,416.0" fill="#00009c"/>
<line x1="228.0" y1="406.2" x2="233.0" y2="417.2" stroke="#00009c" stroke-width="1.3"/>
<polygon points="235.3,422.2 230.5,418.3 235.4,416.0" fill="#00009c"/>
<line x1="234.9" y1="406.2" x2="239.9" y2="417.2" stroke="#00009c" stroke-width="1.3"/>
<polygon points="242.1,422.2 237.4,418.3 242.3,416.0" fill="#00009c"/>
<line x1="241.7" y1="406.2" x2="246.7" y2="417.2" stroke="#00009c" stroke-width="1.3"/>
<polygon points="249.0,422.2 244.3,418.3 249.2,416.0" fill="#00009c"/>
</g>
<g>
<polygon points="135.5,436.5 245.5,436.5 245.5,514.5 135.5,514.5" fill="#87d0ff"/>
<g clip-path="url(#lnight)">
<polygon points="135.5,436.5 245.5,436.5 245.5,514.5 135.5,514.5" fill="#7cc5ff"/>
</g>
</g>
<line x1="142.5" y1="436.5" x2="142.5" y2="514.5" stroke="#000" stroke-width="1" stroke-dasharray="2.2 1.8"/>
<line x1="163.5" y1="436.5" x2="163.5" y2="514.5" stroke="#000" stroke-width="1" stroke-dasharray="2.2 1.8"/>
<line x1="184.5" y1="436.5" x2="184.5" y2="514.5" stroke="#000" stroke-width="1" stroke-dasharray="2.2 1.8"/>
<line x1="205.5" y1="436.5" x2="205.5" y2="514.5" stroke="#000" stroke-width="1" stroke-dasharray="2.2 1.8"/>
<line x1="226.5" y1="436.5" x2="226.5" y2="514.5" stroke="#000" stroke-width="1" stroke-dasharray="2.2 1.8"/>
<line x1="135.5" y1="456.5" x2="245.5" y2="456.5" stroke="#000" stroke-width="1" stroke-dasharray="2.2 1.8"/>
<line x1="135.5" y1="475.5" x2="245.5" y2="475.5" stroke="#000" stroke-width="1" stroke-dasharray="2.2 1.8"/>
<line x1="135.5" y1="495.5" x2="245.5" y2="495.5" stroke="#000" stroke-width="1" stroke-dasharray="2.2 1.8"/>
<g clip-path="url(#l6)">
<circle cx="137.3" cy="475.4" r="2.5" fill="#b22222"/>
<circle cx="143.9" cy="475.4" r="2.5" fill="#b22222"/>
<circle cx="150.5" cy="458.5" r="2.5" fill="#b22222"/>
<circle cx="157.5" cy="458.5" r="2.5" fill="#b22222"/>
<circle cx="164.3" cy="459.6" r="2.5" fill="#b22222"/>
<circle cx="170.7" cy="451.5" r="2.5" fill="#b22222"/>
<circle cx="177.5" cy="449.8" r="2.5" fill="#b22222"/>
<circle cx="184.5" cy="449.8" r="2.5" fill="#b22222"/>
<circle cx="191.5" cy="449.8" r="2.5" fill="#b22222"/>
<circle cx="198.6" cy="451.5" r="2.5" fill="#b22222"/>
<circle cx="204.7" cy="449.8" r="2.5" fill="#b22222"/>
<circle cx="211.5" cy="449.8" r="2.5" fill="#b22222"/>
<circle cx="218.5" cy="449.8" r="2.5" fill="#b22222"/>
<circle cx="225.5" cy="449.8" r="2.5" fill="#b22222"/>
<circle cx="232.4" cy="449.8" r="2.5" fill="#b22222"/>
<circle cx="239.4" cy="449.8" r="2.5" fill="#b22222"/>
<circle cx="245.3" cy="449.8" r="2.5" fill="#b22222"/>
<circle cx="137.3" cy="506.8" r="2.5" fill="#ffffff"/>
<circle cx="143.9" cy="505.7" r="2.5" fill="#ffffff"/>
<circle cx="150.5" cy="500.2" r="2.5" fill="#ffffff"/>
<circle cx="164.3" cy="499.1" r="2.5" fill="#ffffff"/>
<circle cx="170.7" cy="492.6" r="2.5" fill="#ffffff"/>
<circle cx="177.5" cy="492.6" r="2.5" fill="#ffffff"/>
<circle cx="191.5" cy="500.2" r="2.5" fill="#ffffff"/>
<circle cx="198.6" cy="492.6" r="2.5" fill="#ffffff"/>
<circle cx="205.4" cy="492.6" r="2.5" fill="#ffffff"/>
<circle cx="211.5" cy="492.6" r="2.5" fill="#ffffff"/>
<circle cx="218.5" cy="509.0" r="2.5" fill="#ffffff"/>
<circle cx="225.5" cy="509.0" r="2.5" fill="#ffffff"/>
<circle cx="232.4" cy="509.0" r="2.5" fill="#ffffff"/>
<circle cx="239.4" cy="509.0" r="2.5" fill="#ffffff"/>
<circle cx="170.7" cy="489.3" r="2.5" fill="#d4d0cc"/>
<circle cx="177.5" cy="489.3" r="2.5" fill="#d4d0cc"/>
<circle cx="198.6" cy="490.4" r="2.5" fill="#d4d0cc"/>
<circle cx="211.5" cy="488.2" r="2.5" fill="#d4d0cc"/>
<circle cx="218.5" cy="500.2" r="2.5" fill="#c0c0c0"/>
<circle cx="225.5" cy="500.2" r="2.5" fill="#c0c0c0"/>
<circle cx="232.4" cy="500.2" r="2.5" fill="#c0c0c0"/>
<circle cx="239.4" cy="500.2" r="2.5" fill="#c0c0c0"/>
<circle cx="244.9" cy="500.2" r="2.5" fill="#c0c0c0"/>
<circle cx="143.9" cy="500.7" r="2.5" fill="#888888"/>
<circle cx="198.6" cy="484.9" r="2.5" fill="#909090"/>
<circle cx="218.5" cy="489.3" r="2.5" fill="#707070"/>
<circle cx="239.4" cy="494.1" r="2.5" fill="#909090"/>
<circle cx="244.9" cy="481.6" r="2.5" fill="#909090"/>
<circle cx="143.9" cy="481.6" r="2.5" fill="#505050"/>
<circle cx="150.5" cy="492.6" r="2.5" fill="#505050"/>
<circle cx="157.5" cy="492.6" r="2.5" fill="#505050"/>
<circle cx="164.3" cy="492.6" r="2.5" fill="#505050"/>
<circle cx="184.5" cy="500.7" r="2.5" fill="#505050"/>
<circle cx="184.5" cy="504.6" r="2.5" fill="#8c8c8c"/>
<circle cx="191.5" cy="489.3" r="2.5" fill="#606060"/>
<circle cx="211.5" cy="481.6" r="2.5" fill="#606060"/>
<circle cx="225.5" cy="493.7" r="2.5" fill="#505050"/>
<circle cx="232.4" cy="494.1" r="2.5" fill="#606060"/>
<circle cx="191.5" cy="456.8" r="2.5" fill="#000000"/>
<circle cx="198.6" cy="464.5" r="2.5" fill="#000000"/>
<circle cx="204.3" cy="468.4" r="2.5" fill="#000000"/>
<circle cx="211.5" cy="470.6" r="2.5" fill="#000000"/>
<circle cx="218.5" cy="481.6" r="2.5" fill="#000000"/>
<circle cx="225.5" cy="484.9" r="2.5" fill="#000000"/>
<circle cx="232.4" cy="489.3" r="2.5" fill="#000000"/>
<circle cx="239.4" cy="481.6" r="2.5" fill="#000000"/>
<circle cx="245.3" cy="476.1" r="2.5" fill="#000000"/>
<circle cx="184.5" cy="489.3" r="2.5" fill="#000000"/>
<circle cx="184.5" cy="509.0" r="2" fill="#7cc0f0" stroke="#fff" stroke-width="1.3"/>
<polyline points="135.6,471.0 142.8,470.6 150.5,465.1 163.7,463.6 177.9,463.6 184.5,467.3 192.2,469.5 205.4,470.6 219.6,474.6 233.9,473.9 244.9,470.2" fill="none" stroke="#ff9a00" stroke-width="2.0" stroke-linejoin="round"/>
</g>
<rect x="135.5" y="436.5" width="110.0" height="78.0" fill="none" stroke="#000" stroke-width="1"/>
<g>
<polygon points="135.5,523.5 245.5,523.5 245.5,601.5 135.5,601.5" fill="#87d0ff"/>
<g clip-path="url(#lnight)">
<polygon points="135.5,523.5 245.5,523.5 245.5,601.5 135.5,601.5" fill="#7cc5ff"/>
</g>
</g>
<g clip-path="url(#l7)">
<polygon points="164.7,586.3 170.2,580.8 176.8,567.7 184.5,562.2 191.1,551.2 196.6,545.7 204.3,541.3 209.7,528.2 215.2,524.2 246.0,524.2 246.0,601.0 164.7,601.0" fill="#ffffff"/>
</g>
<g clip-path="url(#l7)">
<polygon points="192.2,568.8 194.4,551.2 197.7,531.5 205.4,541.3 211.9,528.2 218.5,526.0 231.7,524.2 246.0,524.2 246.0,601.0 192.2,601.0" fill="#9a9a9a"/>
</g>
<g clip-path="url(#l7)">
<polygon points="135.6,573.2 143.2,563.3 150.0,574.3 157.1,581.9 164.7,586.3 170.2,590.7 177.9,592.9 184.5,569.9 192.2,568.8 197.7,587.4 205.4,594.0 211.9,580.8 218.5,543.5 226.2,534.8 233.9,539.1 240.5,554.5 246.0,569.9 246.0,601.0 135.6,601.0" fill="#585858"/>
</g>
<g clip-path="url(#l7)">
<polygon points="135.6,589.6 141.7,592.9 149.4,590.7 157.1,595.8 163.7,601.0 135.6,601.0" fill="#303030"/>
</g>
<g clip-path="url(#l7)">
<polyline points="135.6,589.6 143.9,596.2 154.9,598.8 163.7,600.2" fill="none" stroke="#e8e8e8" stroke-width="1" stroke-linejoin="round"/>
<polyline points="184.5,601.0 190.0,583.0 193.3,572.1" fill="none" stroke="#e8e8e8" stroke-width="1" stroke-linejoin="round"/>
<polyline points="205.4,541.3 209.7,528.2 215.2,524.9 232.8,524.2 238.3,534.8 244.9,543.5" fill="none" stroke="#f8f8f8" stroke-width="1.1" stroke-linejoin="round"/>
<rect x="217.8" y="590.1" width="2.9" height="11.4" fill="#ffb400"/>
<rect x="224.8" y="590.1" width="2.9" height="11.4" fill="#ffb400"/>
<rect x="231.8" y="590.1" width="2.9" height="11.4" fill="#ffb400"/>
<rect x="238.8" y="590.1" width="2.9" height="11.4" fill="#ffb400"/>
</g>
<line x1="142.5" y1="523.5" x2="142.5" y2="601.5" stroke="#000" stroke-width="1" stroke-dasharray="2.2 1.8"/>
<line x1="163.5" y1="523.5" x2="163.5" y2="601.5" stroke="#000" stroke-width="1" stroke-dasharray="2.2 1.8"/>
<line x1="184.5" y1="523.5" x2="184.5" y2="601.5" stroke="#000" stroke-width="1" stroke-dasharray="2.2 1.8"/>
<line x1="205.5" y1="523.5" x2="205.5" y2="601.5" stroke="#000" stroke-width="1" stroke-dasharray="2.2 1.8"/>
<line x1="226.5" y1="523.5" x2="226.5" y2="601.5" stroke="#000" stroke-width="1" stroke-dasharray="2.2 1.8"/>
<line x1="135.5" y1="543.5" x2="245.5" y2="543.5" stroke="#000" stroke-width="1" stroke-dasharray="2.2 1.8"/>
<line x1="135.5" y1="561.5" x2="245.5" y2="561.5" stroke="#000" stroke-width="1" stroke-dasharray="2.2 1.8"/>
<line x1="135.5" y1="582.5" x2="245.5" y2="582.5" stroke="#000" stroke-width="1" stroke-dasharray="2.2 1.8"/>
<rect x="135.5" y="523.5" width="110.0" height="78.0" fill="none" stroke="#000" stroke-width="1"/>
<text x="128.3" y="63" font-size="11" fill="#000" text-anchor="end">30</text>
<text x="128.3" y="80.9" font-size="11" fill="#000" text-anchor="end">20</text>
<text x="128.3" y="98.2" font-size="11" fill="#000" text-anchor="end">10</text>
<text x="128.3" y="115.1" font-size="11" fill="#000" text-anchor="end">0</text>
<text x="128.3" y="133" font-size="11" fill="#000" text-anchor="end">-10</text>
<text x="253.86" y="63" font-size="11" fill="#000">30</text>
<text x="253.86" y="80.9" font-size="11" fill="#000">20</text>
<text x="253.86" y="98.2" font-size="11" fill="#000">10</text>
<text x="256.92" y="115.1" font-size="11" fill="#000">0</text>
<text x="250.8" y="133" font-size="11" fill="#000">-10</text>
<text x="128.3" y="153.9" font-size="11" fill="#000" text-anchor="end">2.0</text>
<text x="128.3" y="171.4" font-size="11" fill="#000" text-anchor="end">1.5</text>
<text x="128.3" y="189" font-size="11" fill="#000" text-anchor="end">1.0</text>
<text x="128.3" y="206.5" font-size="11" fill="#000" text-anchor="end">0.5</text>
<text x="128.3" y="223.6" font-size="11" fill="#000" text-anchor="end">0.0</text>
<text x="253.4" y="153.6" font-size="11" fill="#e64a14">96</text>
<text x="253.4" y="171.6" font-size="11" fill="#e64a14">84</text>
<text x="253.4" y="189" font-size="11" fill="#e64a14">73</text>
<text x="253.4" y="206.5" font-size="11" fill="#e64a14">61</text>
<text x="253.4" y="223.7" font-size="11" fill="#e64a14">50</text>
<text x="128.3" y="235.5" font-size="11" fill="#000" text-anchor="end">1018</text>
<text x="250.8" y="235.5" font-size="11" fill="#000">1018</text>
<text x="128.3" y="258.6" font-size="11" fill="#000" text-anchor="end">1016</text>
<text x="250.8" y="258.6" font-size="11" fill="#000">1016</text>
<text x="128.3" y="281.7" font-size="11" fill="#000" text-anchor="end">1014</text>
<text x="250.8" y="281.7" font-size="11" fill="#000">1014</text>
<text x="128.3" y="304.6" font-size="11" fill="#000" text-anchor="end">1012</text>
<text x="250.8" y="304.6" font-size="11" fill="#000">1012</text>
<text x="128.3" y="318.8" font-size="11" fill="#000" text-anchor="end">20</text>
<text x="128.3" y="337.7" font-size="11" fill="#000" text-anchor="end">15</text>
<text x="128.3" y="357.4" font-size="11" fill="#000" text-anchor="end">10</text>
<text x="128.3" y="376.7" font-size="11" fill="#000" text-anchor="end">5</text>
<text x="128.3" y="396" font-size="11" fill="#000" text-anchor="end">0</text>
<text x="250.8" y="318.8" font-size="11" fill="#000">72</text>
<text x="250.8" y="337.7" font-size="11" fill="#000">54</text>
<text x="250.8" y="357.4" font-size="11" fill="#000">36</text>
<text x="250.8" y="376.7" font-size="11" fill="#000">18</text>
<text x="250.8" y="396" font-size="11" fill="#000">0</text>
<text x="128.3" y="440.3" font-size="11" fill="#000" text-anchor="end">15.0</text>
<text x="128.3" y="460" font-size="11" fill="#000" text-anchor="end">7.0</text>
<text x="128.3" y="479.1" font-size="11" fill="#000" text-anchor="end">2.0</text>
<text x="128.3" y="498.9" font-size="11" fill="#000" text-anchor="end">0.5</text>
<text x="128.3" y="518.2" font-size="11" fill="#000" text-anchor="end">0.0</text>
<text x="250.8" y="440.3" font-size="11" fill="#ff8000">100</text>
<text x="250.8" y="460" font-size="11" fill="#ff8000">20</text>
<text x="250.8" y="479.1" font-size="11" fill="#ff8000">5</text>
<text x="250.8" y="498.9" font-size="11" fill="#ff8000">1</text>
<text x="250.8" y="518.2" font-size="11" fill="#ff8000">0</text>
<text x="128.3" y="526.5" font-size="11" fill="#000" text-anchor="end">8</text>
<text x="128.3" y="546.7" font-size="11" fill="#000" text-anchor="end">6</text>
<text x="128.3" y="565.4" font-size="11" fill="#000" text-anchor="end">4</text>
<text x="128.3" y="585.6" font-size="11" fill="#000" text-anchor="end">2</text>
<text x="128.3" y="604.6" font-size="11" fill="#000" text-anchor="end">0</text>
<text x="250.8" y="526.5" font-size="11" fill="#ff8000">1</text>
<text x="250.8" y="546.2" font-size="11" fill="#ff8000">0.75</text>
<text x="250.8" y="565.4" font-size="11" fill="#ff8000">0.5</text>
<text x="250.8" y="585.2" font-size="11" fill="#ff8000">0.25</text>
<text x="250.8" y="604.3" font-size="11" fill="#ff8000">0</text>
<text x="164.2" y="52.2" font-size="11" fill="#000" text-anchor="middle">20</text>
<text x="204" y="52.2" font-size="11" fill="#000" text-anchor="middle">02</text>
<text x="244.4" y="52.2" font-size="11" fill="#000" text-anchor="middle">08</text>
<text x="163.8" y="615.0" font-size="11" fill="#000" text-anchor="middle">18</text>
<text x="203.6" y="615.0" font-size="11" fill="#000" text-anchor="middle">00</text>
<text x="244.9" y="615.0" font-size="11" fill="#000" text-anchor="middle">06</text>
<text x="5.7" y="17.7" font-size="11" fill="#000" textLength="59.5" lengthAdjust="spacingAndGlyphs">Czas lokalny</text>
<text x="5.7" y="30.0" font-size="11" fill="#000" textLength="55" lengthAdjust="spacingAndGlyphs">(CET/CEST)</text>
<text x="5.7" y="46.3" font-size="11" fill="#a52a2a" textLength="94" lengthAdjust="spacingAndGlyphs">Temperatura gruntu</text>
<text x="27.3" y="56.7" font-size="11" fill="#a52a2a" textLength="38.7" lengthAdjust="spacingAndGlyphs">max/min</text>
<text x="5.7" y="68.1" font-size="11" fill="#000" textLength="62" lengthAdjust="spacingAndGlyphs">Temperatura:</text>
<text x="12.7" y="80.0" font-size="11" fill="#ff0000" textLength="77.3" lengthAdjust="spacingAndGlyphs">punkt środkowy</text>
<text x="27.3" y="90.5" font-size="11" fill="#ffd0c4" textLength="38.7" lengthAdjust="spacingAndGlyphs">max/min</text>
<text x="9.9" y="101.9" font-size="11" fill="#0000ff" textLength="57.3" lengthAdjust="spacingAndGlyphs">odczuwana</text>
<text x="27.3" y="112.3" font-size="11" fill="#b4e0ff" textLength="38.7" lengthAdjust="spacingAndGlyphs">max/min</text>
<text x="5.7" y="124.1" font-size="11" fill="#6a5acd" textLength="86.7" lengthAdjust="spacingAndGlyphs">Temp. punktu rosy</text>
<text x="5.7" y="141.3" font-size="11" fill="#ff0000" textLength="94.7" lengthAdjust="spacingAndGlyphs">Opad powyżej skali</text>
<text x="5.7" y="154.7" font-size="11" fill="#e64a14" textLength="97.5" lengthAdjust="spacingAndGlyphs">Wilgotność względna</text>
<text x="5.7" y="169.5" font-size="11" fill="#000" textLength="85.5" lengthAdjust="spacingAndGlyphs">Wystąpienie burzy</text>
<text x="5.7" y="182.9" font-size="11" fill="#00a000" textLength="63.2" lengthAdjust="spacingAndGlyphs">Deszcz: max</text>
<text x="49" y="193.9" font-size="11" fill="#00a000" textLength="29" lengthAdjust="spacingAndGlyphs">średni</text>
<text x="5.7" y="205.1" font-size="11" fill="#1030d0" textLength="30.3" lengthAdjust="spacingAndGlyphs">Śnieg:</text>
<text x="49" y="205.1" font-size="11" fill="#1030d0" textLength="18.7" lengthAdjust="spacingAndGlyphs">max</text>
<text x="49" y="215.9" font-size="11" fill="#1030d0" textLength="29" lengthAdjust="spacingAndGlyphs">średni</text>
<text x="5.7" y="228.3" font-size="11" fill="#ff0000" textLength="88.2" lengthAdjust="spacingAndGlyphs">Wystąpienie opadu</text>
<text x="5.7" y="238.5" font-size="11" fill="#ff0000" textLength="71.5" lengthAdjust="spacingAndGlyphs">konwekcyjnego</text>
<text x="5.2" y="266.9" font-size="11" fill="#000" textLength="42" lengthAdjust="spacingAndGlyphs">Ciśnienie</text>
<text x="5.2" y="279.8" font-size="11" fill="#000" textLength="65.5" lengthAdjust="spacingAndGlyphs">zredukowane</text>
<text x="5.2" y="292.5" font-size="11" fill="#000" textLength="87" lengthAdjust="spacingAndGlyphs">do poziomu morza</text>
<text x="5.2" y="322.0" font-size="11" fill="#000" textLength="40" lengthAdjust="spacingAndGlyphs">Wiatr na</text>
<text x="48.5" y="322.0" font-size="11.5" fill="#000" textLength="23" lengthAdjust="spacingAndGlyphs" font-family='"Liberation Serif", serif'>10m:</text>
<text x="9.9" y="337.9" font-size="11" fill="#ff0000" textLength="100.6" lengthAdjust="spacingAndGlyphs">poryw powyżej skali</text>
<text x="9.9" y="351.7" font-size="11" fill="#ff0000" textLength="94.2" lengthAdjust="spacingAndGlyphs">max porywy wiatru</text>
<text x="9.9" y="371.5" font-size="11" fill="#00009c" textLength="78" lengthAdjust="spacingAndGlyphs">prędkość wiatru</text>
<text x="9.9" y="384.6" font-size="11" fill="#00009c" textLength="88.4" lengthAdjust="spacingAndGlyphs">w środku obszaru</text>
<text x="9.9" y="412.8" font-size="11" fill="#00009c" textLength="73.2" lengthAdjust="spacingAndGlyphs">kierunek wiatru</text>
<text x="5.7" y="432.7" font-size="11" fill="#b22222" textLength="90.5" lengthAdjust="spacingAndGlyphs">Wierzchołek chmur</text>
<text x="5.7" y="447.8" font-size="11" fill="#000" textLength="85.3" lengthAdjust="spacingAndGlyphs">Podstawa chmur*</text>
<text x="5.7" y="459.2" font-size="11" fill="#000" textLength="47.6" lengthAdjust="spacingAndGlyphs">o pokryciu</text>
<text x="10.8" y="471.5" font-size="11" fill="#000" textLength="43.2" lengthAdjust="spacingAndGlyphs">&gt; 7.9 okt.</text>
<text x="10.8" y="482.7" font-size="11" fill="#404040" textLength="43.2" lengthAdjust="spacingAndGlyphs">&gt; 6.5 okt.</text>
<text x="10.8" y="493.5" font-size="11" fill="#909090" textLength="43.2" lengthAdjust="spacingAndGlyphs">&gt; 4.5 okt.</text>
<text x="10.8" y="503.8" font-size="11" fill="#dcd6d0" textLength="43.2" lengthAdjust="spacingAndGlyphs">&gt; 2.5 okt.</text>
<rect x="10.8" y="505.2" width="44.2" height="11.6" fill="#87cefa"/>
<text x="11.2" y="515.3" font-size="11" fill="#ffffff" textLength="43.2" lengthAdjust="spacingAndGlyphs">&gt; 0.1 okt.</text>
<text x="5.7" y="529.9" font-size="11" fill="#ff8000" textLength="57.6" lengthAdjust="spacingAndGlyphs">Widzialność</text>
<text x="5.7" y="546.5" font-size="11" fill="#000" textLength="38.8" lengthAdjust="spacingAndGlyphs">Chmury:</text>
<rect x="9.9" y="551.2" width="41.3" height="11.5" fill="#87cefa"/>
<text x="11" y="560.3" font-size="11" fill="#ffffff" textLength="39.5" lengthAdjust="spacingAndGlyphs">wysokie</text>
<text x="9.9" y="572.8" font-size="11" fill="#909090" textLength="35.1" lengthAdjust="spacingAndGlyphs">średnie</text>
<text x="9.9" y="584.8" font-size="11" fill="#404040" textLength="25.9" lengthAdjust="spacingAndGlyphs">niskie</text>
<text x="9.9" y="596.8" font-size="11" fill="#202020" textLength="60.8" lengthAdjust="spacingAndGlyphs">bardzo niskie</text>
<text x="5.7" y="608.8" font-size="11" fill="#ffb000" textLength="19.7" lengthAdjust="spacingAndGlyphs">Mgła</text>
<text x="5.7" y="625.5" font-size="11" fill="#000" textLength="130.5" lengthAdjust="spacingAndGlyphs" font-family='"DejaVu Sans", sans-serif'>Czas uniwersalny (UTC)</text>
<text x="5.2" y="651.0" font-size="9" fill="#000" font-weight="bold">*</text>
<text x="11.5" y="651.0" font-size="9" fill="#000" textLength="96.5" lengthAdjust="spacingAndGlyphs" font-weight="bold">powyżej poziomu morza</text>
<rect x="5.5" y="0.0" width="1.2" height="1.2" fill="#000"/>
<polyline points="68.0,16.5 133.8,16.5 155.5,44.5" fill="none" stroke="#000" stroke-width="1" stroke-linejoin="round"/>
<polyline points="102.0,44.5 120.0,44.5 150.4,94.0" fill="none" stroke="#a52a2a" stroke-width="1" stroke-linejoin="round"/>
<polyline points="92.0,76.5 115.0,76.5" fill="none" stroke="#ff0000" stroke-width="1" stroke-linejoin="round"/>
<polyline points="129.5,76.5 132.0,76.5 158.0,110.0" fill="none" stroke="#ff0000" stroke-width="1" stroke-linejoin="round"/>
<polyline points="70.0,99.5 134.0,99.5 137.5,102.5" fill="none" stroke="#0000ff" stroke-width="1" stroke-linejoin="round"/>
<polyline points="95.0,120.5 130.0,120.5 140.0,113.5" fill="none" stroke="#6a5acd" stroke-width="1" stroke-linejoin="round"/>
<polyline points="103.0,137.6 140.6,137.6 146.1,146.0" fill="none" stroke="#ff0000" stroke-width="1" stroke-linejoin="round"/>
<polyline points="105.0,150.5 109.5,150.5" fill="none" stroke="#e64a14" stroke-width="1" stroke-linejoin="round"/>
<polyline points="129.6,150.8 146.5,160.0" fill="none" stroke="#e64a14" stroke-width="1" stroke-linejoin="round"/>
<polyline points="94.0,167.5 112.7,167.5" fill="none" stroke="#000" stroke-width="1" stroke-linejoin="round"/>
<polyline points="129.6,167.5 133.0,167.5 138.4,172.8" fill="none" stroke="#000" stroke-width="1" stroke-linejoin="round"/>
<polyline points="71.0,179.5 139.5,179.5" fill="none" stroke="#00a000" stroke-width="1" stroke-linejoin="round"/>
<polyline points="80.0,190.5 136.2,190.5" fill="none" stroke="#00a000" stroke-width="1" stroke-linejoin="round"/>
<polyline points="70.0,202.5 112.0,202.5" fill="none" stroke="#1030d0" stroke-width="1" stroke-linejoin="round"/>
<polyline points="129.6,202.2 160.4,172.3" fill="none" stroke="#1030d0" stroke-width="1" stroke-linejoin="round"/>
<polyline points="81.0,213.5 132.0,213.5 158.2,183.3" fill="none" stroke="#1030d0" stroke-width="1" stroke-linejoin="round"/>
<polyline points="97.0,225.5 143.7,225.5 148.0,219.5" fill="none" stroke="#ff0000" stroke-width="1" stroke-linejoin="round"/>
<polyline points="51.0,263.5 130.7,263.5 135.6,262.0" fill="none" stroke="#000" stroke-width="1" stroke-linejoin="round"/>
<polyline points="112.5,333.5 116.5,333.5" fill="none" stroke="#ff0000" stroke-width="1" stroke-linejoin="round"/>
<polyline points="130.7,333.5 139.0,317.0" fill="none" stroke="#ff0000" stroke-width="1" stroke-linejoin="round"/>
<polyline points="107.0,347.5 131.8,347.5 137.0,345.0 143.9,340.1" fill="none" stroke="#ff0000" stroke-width="1" stroke-linejoin="round"/>
<polyline points="90.0,367.5 135.6,367.5" fill="none" stroke="#00009c" stroke-width="1" stroke-linejoin="round"/>
<polyline points="86.0,410.5 139.0,410.5" fill="none" stroke="#00009c" stroke-width="1" stroke-linejoin="round"/>
<polyline points="100.0,430.5 132.8,430.5 184.5,448.5" fill="none" stroke="#b22222" stroke-width="1" stroke-linejoin="round"/>
<polyline points="57.0,468.5 131.8,468.5 190.0,456.8" fill="none" stroke="#000" stroke-width="1" stroke-linejoin="round"/>
<polyline points="57.0,480.5 142.8,480.5" fill="none" stroke="#404040" stroke-width="1" stroke-linejoin="round"/>
<polyline points="57.0,490.5 131.2,490.5 142.8,499.8" fill="none" stroke="#909090" stroke-width="1" stroke-linejoin="round"/>
<polyline points="57.0,500.5 131.2,500.5 136.7,505.0" fill="none" stroke="#dcd6d0" stroke-width="1" stroke-linejoin="round"/>
<polyline points="57.0,509.5 135.6,509.5" fill="none" stroke="#87cefa" stroke-width="1" stroke-linejoin="round"/>
<polyline points="57.0,511.5 135.6,511.5" fill="none" stroke="#87cefa" stroke-width="1" stroke-linejoin="round"/>
<polyline points="67.0,527.5 129.7,527.5 173.5,463.5" fill="none" stroke="#ff9000" stroke-width="1" stroke-linejoin="round"/>
<polyline points="54.0,556.5 186.5,556.5" fill="none" stroke="#87cefa" stroke-width="1" stroke-linejoin="round"/>
<polyline points="54.0,558.5 186.5,558.5" fill="none" stroke="#87cefa" stroke-width="1" stroke-linejoin="round"/>
<polyline points="49.0,571.5 193.0,571.5" fill="none" stroke="#909090" stroke-width="1" stroke-linejoin="round"/>
<polyline points="40.0,582.5 122.0,582.5" fill="none" stroke="#404040" stroke-width="1" stroke-linejoin="round"/>
<polyline points="129.6,582.5 135.6,582.5" fill="none" stroke="#404040" stroke-width="1" stroke-linejoin="round"/>
<polyline points="74.0,594.5 160.0,594.5" fill="none" stroke="#202020" stroke-width="1" stroke-linejoin="round"/>
<polyline points="30.0,605.5 217.4,605.5 219.6,601.5" fill="none" stroke="#ffb000" stroke-width="1" stroke-linejoin="round"/>
<polyline points="139.5,623.5 148.3,623.5 157.4,610.5" fill="none" stroke="#000" stroke-width="1" stroke-linejoin="round"/>
</svg>
</body></html>
